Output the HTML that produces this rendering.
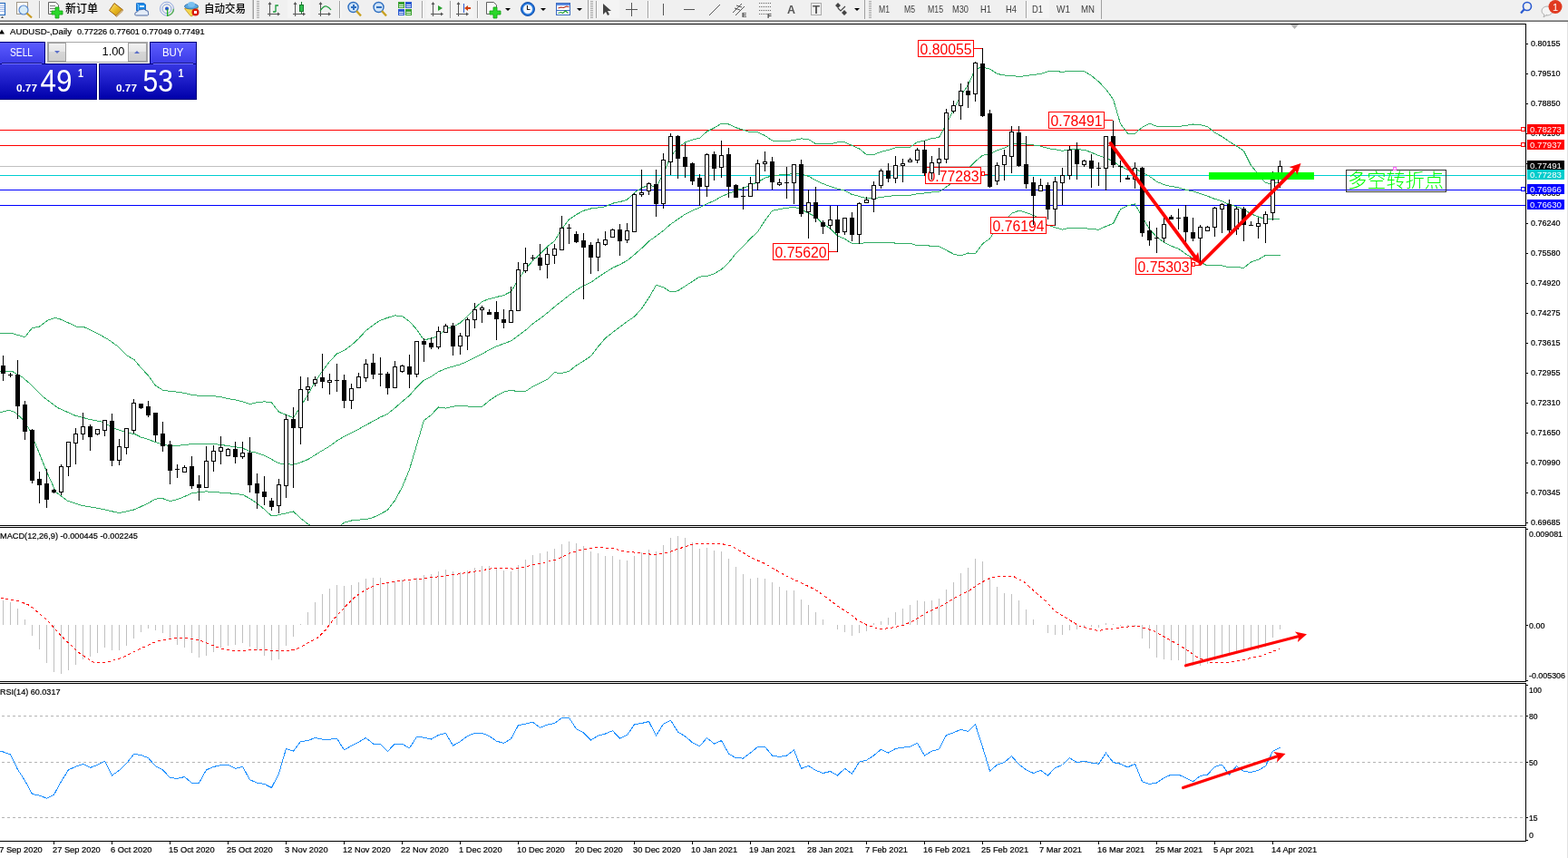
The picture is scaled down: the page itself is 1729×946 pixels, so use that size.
<!DOCTYPE html>
<html><head><meta charset="utf-8"><title>AUDUSD Daily</title>
<style>html,body{margin:0;padding:0;background:#fff;overflow:hidden}body{width:1729px;height:946px;position:relative}svg text{white-space:pre}</style>
</head><body>
<svg width="1729" height="946" viewBox="0 0 1729 946" style="position:absolute;left:0;top:0">
<defs><linearGradient id="gSellTop" x1="0" y1="0" x2="0" y2="1"><stop offset="0" stop-color="#5c5cff"/><stop offset="1" stop-color="#3a3ae6"/></linearGradient><linearGradient id="gSellBot" x1="0" y1="0" x2="0" y2="1"><stop offset="0" stop-color="#3636e2"/><stop offset="1" stop-color="#0000aa"/></linearGradient><linearGradient id="gBtn" x1="0" y1="0" x2="0" y2="1"><stop offset="0" stop-color="#f2f2f2"/><stop offset="0.45" stop-color="#e6e6e6"/><stop offset="0.5" stop-color="#d6d6d6"/><stop offset="1" stop-color="#cfcfcf"/></linearGradient><clipPath id="cMain"><rect x="0" y="27" width="1682" height="552"/></clipPath><clipPath id="cMacd"><rect x="0" y="582" width="1682" height="169"/></clipPath><clipPath id="cRsi"><rect x="0" y="754" width="1682" height="173"/></clipPath></defs>
<rect x="0" y="0" width="1729" height="946" fill="#ffffff" />
<g shape-rendering="crispEdges">
<rect x="0" y="26" width="1683" height="1" fill="#000" />
<rect x="1682" y="26" width="1" height="554" fill="#000" />
<rect x="0" y="579" width="1683" height="1" fill="#000" />
<rect x="0" y="581" width="1683" height="1" fill="#000" />
<rect x="1682" y="581" width="1" height="171" fill="#000" />
<rect x="0" y="751" width="1683" height="1" fill="#000" />
<rect x="0" y="753" width="1683" height="1" fill="#000" />
<rect x="1682" y="753" width="1" height="175" fill="#000" />
<rect x="0" y="927" width="1683" height="1" fill="#000" />
<rect x="1683" y="926" width="2" height="1" fill="#000" />
<rect x="1728" y="24" width="1" height="922" fill="#e2e2e2" />
<rect x="0" y="143" width="1682" height="1" fill="#ff0000" />
<rect x="0" y="160" width="1682" height="1" fill="#ff0000" />
<rect x="0" y="183" width="1682" height="1" fill="#c0c0c0" />
<rect x="0" y="193" width="1682" height="1" fill="#00ced1" />
<rect x="0" y="209" width="1682" height="1" fill="#0000ff" />
<rect x="0" y="226" width="1682" height="1" fill="#0000ff" />
<rect x="1677.5" y="140.5" width="4" height="4" fill="#fff" stroke="#ff0000" stroke-width="1"/>
<rect x="1677.5" y="157.5" width="4" height="4" fill="#fff" stroke="#ff0000" stroke-width="1"/>
<rect x="1677.5" y="206.5" width="4" height="4" fill="#fff" stroke="#0000ff" stroke-width="1"/>
</g>
<g clip-path="url(#cMain)">
<g shape-rendering="crispEdges" stroke-linejoin="round">
<polyline points="0.5,367.3 13.2,367.6 27.5,371.6 35.4,361.7 43.3,360.1 52.8,353.0 60.8,350.3 67.1,352.2 84.6,360.1 92.5,360.5 108.4,368.1 119.5,374.4 130.5,382.3 140.1,391.9 148.0,396.6 155.5,405.6 163.5,414.0 171.5,425.2 179.5,430.1 187.5,431.4 195.5,432.1 203.5,433.4 211.5,435.5 219.5,436.2 227.5,436.4 235.5,436.7 243.5,437.7 251.5,439.7 259.5,440.8 267.5,442.8 275.5,445.5 283.5,443.7 291.5,442.8 299.5,443.9 307.5,454.2 315.5,457.4 323.5,460.6 331.5,448.2 339.5,435.3 347.5,420.9 355.5,409.1 363.5,398.6 371.5,390.0 379.5,386.4 387.5,380.6 395.5,373.3 403.5,364.5 411.5,358.4 419.5,353.1 427.5,350.3 435.5,347.9 443.5,348.6 451.5,354.4 459.5,363.3 467.5,375.0 475.5,373.0 483.5,370.8 491.5,362.7 499.5,360.2 507.5,356.0 515.5,348.7 523.5,340.0 531.5,332.4 539.5,329.6 547.5,327.5 555.5,325.6 563.5,321.5 571.5,308.6 579.5,296.6 587.5,287.6 595.5,280.2 603.5,271.9 611.5,265.7 619.5,252.5 627.5,241.9 635.5,236.6 643.5,232.3 651.5,230.0 659.5,229.0 667.5,227.8 675.5,224.2 683.5,222.6 691.5,220.2 699.5,212.3 707.5,207.3 715.5,203.9 723.5,206.2 731.5,191.8 739.5,172.4 747.5,162.7 755.5,157.0 763.5,154.1 771.5,152.3 779.5,145.0 787.5,141.0 795.5,136.2 803.5,137.0 811.5,140.7 819.5,143.3 827.5,145.7 835.5,145.8 843.5,149.5 851.5,155.0 859.5,155.3 867.5,155.6 875.5,154.6 883.5,152.9 891.5,153.6 899.5,158.6 907.5,158.3 915.5,159.0 923.5,156.9 931.5,156.8 939.5,160.5 947.5,164.0 955.5,170.6 963.5,170.5 971.5,167.3 979.5,165.5 987.5,162.7 995.5,162.7 1003.5,162.3 1011.5,156.5 1019.5,155.3 1027.5,152.6 1035.5,151.6 1043.5,136.2 1051.5,121.3 1059.5,105.4 1067.5,93.9 1075.5,76.0 1083.5,74.0 1091.5,76.1 1099.5,81.4 1107.5,83.0 1115.5,83.5 1123.5,84.4 1131.5,83.7 1139.5,82.3 1147.5,81.6 1155.5,78.8 1163.5,78.7 1171.5,79.2 1179.5,78.6 1187.5,78.6 1195.5,78.7 1203.5,83.4 1211.5,90.0 1219.5,98.5 1227.5,109.4 1235.5,136.5 1243.5,147.3 1251.5,147.2 1259.5,140.4 1267.5,136.1 1275.5,139.3 1283.5,139.9 1291.5,139.7 1299.5,139.3 1307.5,138.6 1315.5,137.0 1323.5,137.7 1331.5,139.5 1339.5,146.2 1347.5,150.6 1355.5,156.2 1363.5,160.9 1371.5,166.4 1379.5,182.5 1387.5,191.8 1395.5,201.9 1403.5,202.2 1411.5,201.5" fill="none" stroke="#31ad65" stroke-width="1" />
<polyline points="0.5,409.6 6.8,409.0 13.2,409.3 24.3,415.6 35.4,425.2 48.1,437.9 63.9,449.7 83.0,458.2 98.8,462.4 111.5,464.8 127.4,472.7 138.5,476.7 149.5,479.0 155.5,482.1 163.5,484.4 171.5,487.6 179.5,489.9 187.5,492.0 195.5,491.4 203.5,490.4 211.5,489.7 219.5,489.4 227.5,489.1 235.5,489.6 243.5,490.4 251.5,491.6 259.5,492.8 267.5,494.1 275.5,497.6 283.5,499.4 291.5,502.1 299.5,506.4 307.5,510.9 315.5,511.6 323.5,512.3 331.5,509.8 339.5,506.6 347.5,501.6 355.5,496.7 363.5,491.9 371.5,486.1 379.5,481.3 387.5,477.3 395.5,473.2 403.5,468.6 411.5,464.4 419.5,459.9 427.5,456.3 435.5,449.8 443.5,442.8 451.5,436.1 459.5,426.9 467.5,419.2 475.5,415.2 483.5,409.9 491.5,406.4 499.5,404.1 507.5,401.8 515.5,398.4 523.5,394.4 531.5,390.4 539.5,385.7 547.5,381.9 555.5,378.9 563.5,375.9 571.5,370.1 579.5,364.1 587.5,356.9 595.5,351.3 603.5,345.1 611.5,338.2 619.5,332.0 627.5,325.6 635.5,319.8 643.5,315.1 651.5,311.4 659.5,305.6 667.5,300.4 675.5,295.4 683.5,291.6 691.5,287.4 699.5,280.8 707.5,273.8 715.5,266.1 723.5,260.2 731.5,254.2 739.5,247.2 747.5,241.7 755.5,236.2 763.5,232.2 771.5,228.8 779.5,224.7 787.5,221.4 795.5,216.7 803.5,213.3 811.5,210.0 819.5,207.4 827.5,204.3 835.5,200.7 843.5,196.3 851.5,193.7 859.5,193.0 867.5,192.4 875.5,191.4 883.5,191.9 891.5,194.3 899.5,198.8 907.5,202.6 915.5,205.5 923.5,208.3 931.5,210.1 939.5,214.5 947.5,216.4 955.5,218.9 963.5,218.8 971.5,217.4 979.5,216.4 987.5,215.4 995.5,215.4 1003.5,215.3 1011.5,213.6 1019.5,213.0 1027.5,211.9 1035.5,211.6 1043.5,206.1 1051.5,200.7 1059.5,193.7 1067.5,186.4 1075.5,177.8 1083.5,171.3 1091.5,169.6 1099.5,165.8 1107.5,163.2 1115.5,159.4 1123.5,158.3 1131.5,159.0 1139.5,159.9 1147.5,161.1 1155.5,163.6 1163.5,164.8 1171.5,166.2 1179.5,164.9 1187.5,164.9 1195.5,165.1 1203.5,168.1 1211.5,171.6 1219.5,174.1 1227.5,177.9 1235.5,183.6 1243.5,187.1 1251.5,186.1 1259.5,189.8 1267.5,194.4 1275.5,200.3 1283.5,203.6 1291.5,205.5 1299.5,206.8 1307.5,209.3 1315.5,210.9 1323.5,213.4 1331.5,216.2 1339.5,219.4 1347.5,221.7 1355.5,225.5 1363.5,227.8 1371.5,230.8 1379.5,235.8 1387.5,239.0 1395.5,241.7 1403.5,241.7 1411.5,241.6" fill="none" stroke="#31ad65" stroke-width="1" />
<polyline points="0.5,454.5 10.0,452.4 16.4,454.5 24.3,461.6 32.2,473.0 42.8,498.4 51.2,519.5 61.8,542.8 74.5,552.3 89.3,557.2 110.5,560.8 131.5,565.6 148.5,561.8 155.5,558.5 163.5,554.7 171.5,550.1 179.5,549.6 187.5,552.6 195.5,550.7 203.5,547.5 211.5,543.9 219.5,542.7 227.5,541.9 235.5,542.6 243.5,543.1 251.5,543.6 259.5,544.7 267.5,545.3 275.5,549.7 283.5,555.1 291.5,561.5 299.5,569.0 307.5,567.7 315.5,565.8 323.5,564.0 331.5,571.4 339.5,577.8 347.5,582.2 355.5,584.3 363.5,585.2 371.5,582.2 379.5,576.2 387.5,574.0 395.5,573.1 403.5,572.7 411.5,570.5 419.5,566.7 427.5,562.3 435.5,551.7 443.5,537.0 451.5,517.7 459.5,490.6 467.5,463.4 475.5,457.4 483.5,449.0 491.5,450.1 499.5,448.1 507.5,447.5 515.5,448.0 523.5,448.9 531.5,448.5 539.5,441.8 547.5,436.2 555.5,432.1 563.5,430.3 571.5,431.7 579.5,431.5 587.5,426.2 595.5,422.4 603.5,418.4 611.5,410.8 619.5,411.5 627.5,409.3 635.5,403.0 643.5,398.0 651.5,392.7 659.5,382.3 667.5,372.9 675.5,366.6 683.5,360.6 691.5,354.5 699.5,349.2 707.5,340.3 715.5,328.4 723.5,314.3 731.5,316.6 739.5,322.0 747.5,320.7 755.5,315.5 763.5,310.3 771.5,305.2 779.5,304.4 787.5,301.8 795.5,297.1 803.5,289.6 811.5,279.3 819.5,271.6 827.5,263.0 835.5,255.6 843.5,243.2 851.5,232.3 859.5,230.7 867.5,229.3 875.5,228.2 883.5,231.0 891.5,235.0 899.5,239.0 907.5,246.8 915.5,252.0 923.5,259.8 931.5,263.4 939.5,268.5 947.5,268.9 955.5,267.2 963.5,267.2 971.5,267.5 979.5,267.3 987.5,268.1 995.5,268.1 1003.5,268.3 1011.5,270.6 1019.5,270.7 1027.5,271.2 1035.5,271.6 1043.5,275.9 1051.5,280.1 1059.5,282.0 1067.5,279.0 1075.5,279.6 1083.5,268.7 1091.5,263.1 1099.5,250.2 1107.5,243.3 1115.5,235.3 1123.5,232.2 1131.5,234.3 1139.5,237.6 1147.5,240.5 1155.5,248.3 1163.5,250.8 1171.5,253.1 1179.5,251.2 1187.5,251.3 1195.5,251.4 1203.5,252.8 1211.5,253.1 1219.5,249.6 1227.5,246.4 1235.5,230.7 1243.5,226.9 1251.5,225.0 1259.5,239.2 1267.5,252.8 1275.5,261.3 1283.5,267.2 1291.5,271.3 1299.5,274.2 1307.5,280.0 1315.5,284.8 1323.5,289.1 1331.5,293.0 1339.5,292.7 1347.5,292.8 1355.5,294.8 1363.5,294.6 1371.5,295.3 1379.5,289.0 1387.5,286.2 1395.5,281.4 1403.5,281.2 1411.5,281.7" fill="none" stroke="#31ad65" stroke-width="1" />
</g>
<rect x="1012.5" y="44.5" width="61" height="18" fill="#fff" stroke="#ff0000" stroke-width="1" shape-rendering="crispEdges"/>
<text x="1014.5" y="59.7" font-size="16" fill="#ff0000" text-anchor="start" font-weight="normal" font-family="'Liberation Sans', Arial, sans-serif" textLength="57" lengthAdjust="spacingAndGlyphs" >0.80055</text>
<rect x="1074" y="53" width="9" height="1" fill="#ff0000" shape-rendering="crispEdges"/>
<rect x="1156.5" y="123.5" width="61" height="18" fill="#fff" stroke="#ff0000" stroke-width="1" shape-rendering="crispEdges"/>
<text x="1158.5" y="138.7" font-size="16" fill="#ff0000" text-anchor="start" font-weight="normal" font-family="'Liberation Sans', Arial, sans-serif" textLength="57" lengthAdjust="spacingAndGlyphs" >0.78491</text>
<rect x="1218" y="132" width="9" height="1" fill="#ff0000" shape-rendering="crispEdges"/>
<rect x="1020.5" y="184.5" width="61" height="18" fill="#fff" stroke="#ff0000" stroke-width="1" shape-rendering="crispEdges"/>
<text x="1022.5" y="199.7" font-size="16" fill="#ff0000" text-anchor="start" font-weight="normal" font-family="'Liberation Sans', Arial, sans-serif" textLength="57" lengthAdjust="spacingAndGlyphs" >0.77283</text>
<rect x="1082.5" y="189.5" width="3" height="4" fill="#fff" stroke="#ff0000" stroke-width="1" shape-rendering="crispEdges"/>
<rect x="1086" y="192" width="5" height="1" fill="#ff0000" shape-rendering="crispEdges"/>
<rect x="852.5" y="268.5" width="61" height="18" fill="#fff" stroke="#ff0000" stroke-width="1" shape-rendering="crispEdges"/>
<text x="854.5" y="283.7" font-size="16" fill="#ff0000" text-anchor="start" font-weight="normal" font-family="'Liberation Sans', Arial, sans-serif" textLength="57" lengthAdjust="spacingAndGlyphs" >0.75620</text>
<rect x="914" y="277" width="9" height="1" fill="#ff0000" shape-rendering="crispEdges"/>
<rect x="1092.5" y="239.5" width="61" height="18" fill="#fff" stroke="#ff0000" stroke-width="1" shape-rendering="crispEdges"/>
<text x="1094.5" y="254.7" font-size="16" fill="#ff0000" text-anchor="start" font-weight="normal" font-family="'Liberation Sans', Arial, sans-serif" textLength="57" lengthAdjust="spacingAndGlyphs" >0.76194</text>
<rect x="1154" y="248" width="9" height="1" fill="#ff0000" shape-rendering="crispEdges"/>
<rect x="1252.5" y="284.5" width="61" height="18" fill="#fff" stroke="#ff0000" stroke-width="1" shape-rendering="crispEdges"/>
<text x="1254.5" y="299.7" font-size="16" fill="#ff0000" text-anchor="start" font-weight="normal" font-family="'Liberation Sans', Arial, sans-serif" textLength="57" lengthAdjust="spacingAndGlyphs" >0.75303</text>
<rect x="1314.5" y="289.5" width="3" height="4" fill="#fff" stroke="#ff0000" stroke-width="1" shape-rendering="crispEdges"/>
<rect x="1318" y="292" width="5" height="1" fill="#ff0000" shape-rendering="crispEdges"/>
<g shape-rendering="crispEdges">
<rect x="3" y="392" width="1" height="28" fill="#000" />
<rect x="1" y="403" width="5" height="9" fill="#000" />
<rect x="11" y="411" width="1" height="5" fill="#000" />
<rect x="9" y="413" width="5" height="1" fill="#000" />
<rect x="19" y="397" width="1" height="65" fill="#000" />
<rect x="17" y="413" width="5" height="35" fill="#000" />
<rect x="27" y="442" width="1" height="43" fill="#000" />
<rect x="25" y="446" width="5" height="30" fill="#000" />
<rect x="35" y="473" width="1" height="60" fill="#000" />
<rect x="33" y="474" width="5" height="56" fill="#000" />
<rect x="43" y="520" width="1" height="35" fill="#000" />
<rect x="41" y="528" width="5" height="7" fill="#000" />
<rect x="51" y="517" width="1" height="43" fill="#000" />
<rect x="49" y="533" width="5" height="18" fill="#000" />
<rect x="59" y="539" width="1" height="5" fill="#000" />
<rect x="57" y="540" width="5" height="3" fill="#000" />
<rect x="67" y="512" width="1" height="34" fill="#000" />
<rect x="65" y="514" width="5" height="29" fill="#000" />
<rect x="66" y="515" width="3" height="27" fill="#fff" />
<rect x="75" y="487" width="1" height="38" fill="#000" />
<rect x="73" y="487" width="5" height="28" fill="#000" />
<rect x="74" y="488" width="3" height="26" fill="#fff" />
<rect x="83" y="472" width="1" height="40" fill="#000" />
<rect x="81" y="478" width="5" height="11" fill="#000" />
<rect x="82" y="479" width="3" height="9" fill="#fff" />
<rect x="91" y="455" width="1" height="30" fill="#000" />
<rect x="89" y="470" width="5" height="9" fill="#000" />
<rect x="90" y="471" width="3" height="7" fill="#fff" />
<rect x="99" y="468" width="1" height="29" fill="#000" />
<rect x="97" y="470" width="5" height="12" fill="#000" />
<rect x="107" y="473" width="1" height="7" fill="#000" />
<rect x="105" y="473" width="5" height="6" fill="#000" />
<rect x="106" y="474" width="3" height="4" fill="#fff" />
<rect x="115" y="463" width="1" height="18" fill="#000" />
<rect x="113" y="463" width="5" height="12" fill="#000" />
<rect x="114" y="464" width="3" height="10" fill="#fff" />
<rect x="123" y="456" width="1" height="58" fill="#000" />
<rect x="121" y="464" width="5" height="44" fill="#000" />
<rect x="131" y="484" width="1" height="29" fill="#000" />
<rect x="129" y="492" width="5" height="16" fill="#000" />
<rect x="130" y="493" width="3" height="14" fill="#fff" />
<rect x="139" y="472" width="1" height="29" fill="#000" />
<rect x="137" y="472" width="5" height="22" fill="#000" />
<rect x="138" y="473" width="3" height="20" fill="#fff" />
<rect x="147" y="440" width="1" height="38" fill="#000" />
<rect x="145" y="444" width="5" height="31" fill="#000" />
<rect x="146" y="445" width="3" height="29" fill="#fff" />
<rect x="155" y="445" width="1" height="6" fill="#000" />
<rect x="153" y="445" width="5" height="5" fill="#000" />
<rect x="163" y="442" width="1" height="18" fill="#000" />
<rect x="161" y="448" width="5" height="10" fill="#000" />
<rect x="171" y="455" width="1" height="32" fill="#000" />
<rect x="169" y="455" width="5" height="25" fill="#000" />
<rect x="179" y="465" width="1" height="33" fill="#000" />
<rect x="177" y="478" width="5" height="14" fill="#000" />
<rect x="187" y="486" width="1" height="48" fill="#000" />
<rect x="185" y="490" width="5" height="29" fill="#000" />
<rect x="195" y="512" width="1" height="15" fill="#000" />
<rect x="193" y="517" width="5" height="1" fill="#000" />
<rect x="203" y="513" width="1" height="8" fill="#000" />
<rect x="201" y="515" width="5" height="6" fill="#000" />
<rect x="202" y="516" width="3" height="4" fill="#fff" />
<rect x="211" y="503" width="1" height="36" fill="#000" />
<rect x="209" y="514" width="5" height="22" fill="#000" />
<rect x="219" y="524" width="1" height="28" fill="#000" />
<rect x="217" y="534" width="5" height="4" fill="#000" />
<rect x="227" y="492" width="1" height="46" fill="#000" />
<rect x="225" y="508" width="5" height="30" fill="#000" />
<rect x="226" y="509" width="3" height="28" fill="#fff" />
<rect x="235" y="491" width="1" height="29" fill="#000" />
<rect x="233" y="497" width="5" height="12" fill="#000" />
<rect x="234" y="498" width="3" height="10" fill="#fff" />
<rect x="243" y="481" width="1" height="31" fill="#000" />
<rect x="241" y="493" width="5" height="5" fill="#000" />
<rect x="242" y="494" width="3" height="3" fill="#fff" />
<rect x="251" y="494" width="1" height="9" fill="#000" />
<rect x="249" y="495" width="5" height="8" fill="#000" />
<rect x="250" y="496" width="3" height="6" fill="#fff" />
<rect x="259" y="487" width="1" height="24" fill="#000" />
<rect x="257" y="495" width="5" height="9" fill="#000" />
<rect x="267" y="487" width="1" height="19" fill="#000" />
<rect x="265" y="499" width="5" height="5" fill="#000" />
<rect x="266" y="500" width="3" height="3" fill="#fff" />
<rect x="275" y="482" width="1" height="61" fill="#000" />
<rect x="273" y="499" width="5" height="36" fill="#000" />
<rect x="283" y="522" width="1" height="39" fill="#000" />
<rect x="281" y="533" width="5" height="11" fill="#000" />
<rect x="291" y="525" width="1" height="32" fill="#000" />
<rect x="289" y="542" width="5" height="6" fill="#000" />
<rect x="299" y="549" width="1" height="14" fill="#000" />
<rect x="297" y="552" width="5" height="7" fill="#000" />
<rect x="307" y="528" width="1" height="38" fill="#000" />
<rect x="305" y="534" width="5" height="24" fill="#000" />
<rect x="306" y="535" width="3" height="22" fill="#fff" />
<rect x="315" y="457" width="1" height="92" fill="#000" />
<rect x="313" y="462" width="5" height="74" fill="#000" />
<rect x="314" y="463" width="3" height="72" fill="#fff" />
<rect x="323" y="449" width="1" height="89" fill="#000" />
<rect x="321" y="462" width="5" height="10" fill="#000" />
<rect x="331" y="415" width="1" height="75" fill="#000" />
<rect x="329" y="429" width="5" height="43" fill="#000" />
<rect x="330" y="430" width="3" height="41" fill="#fff" />
<rect x="339" y="416" width="1" height="26" fill="#000" />
<rect x="337" y="426" width="5" height="4" fill="#000" />
<rect x="338" y="427" width="3" height="2" fill="#fff" />
<rect x="347" y="415" width="1" height="11" fill="#000" />
<rect x="345" y="418" width="5" height="5" fill="#000" />
<rect x="346" y="419" width="3" height="3" fill="#fff" />
<rect x="355" y="390" width="1" height="38" fill="#000" />
<rect x="353" y="416" width="5" height="5" fill="#000" />
<rect x="363" y="412" width="1" height="23" fill="#000" />
<rect x="361" y="419" width="5" height="3" fill="#000" />
<rect x="362" y="420" width="3" height="1" fill="#fff" />
<rect x="371" y="401" width="1" height="31" fill="#000" />
<rect x="369" y="419" width="5" height="1" fill="#000" />
<rect x="379" y="413" width="1" height="37" fill="#000" />
<rect x="377" y="419" width="5" height="23" fill="#000" />
<rect x="387" y="423" width="1" height="28" fill="#000" />
<rect x="385" y="428" width="5" height="14" fill="#000" />
<rect x="386" y="429" width="3" height="12" fill="#fff" />
<rect x="395" y="411" width="1" height="17" fill="#000" />
<rect x="393" y="415" width="5" height="13" fill="#000" />
<rect x="394" y="416" width="3" height="11" fill="#fff" />
<rect x="403" y="396" width="1" height="25" fill="#000" />
<rect x="401" y="401" width="5" height="16" fill="#000" />
<rect x="402" y="402" width="3" height="14" fill="#fff" />
<rect x="411" y="390" width="1" height="28" fill="#000" />
<rect x="409" y="400" width="5" height="13" fill="#000" />
<rect x="419" y="394" width="1" height="32" fill="#000" />
<rect x="417" y="412" width="5" height="1" fill="#000" />
<rect x="427" y="410" width="1" height="25" fill="#000" />
<rect x="425" y="412" width="5" height="16" fill="#000" />
<rect x="435" y="398" width="1" height="30" fill="#000" />
<rect x="433" y="404" width="5" height="24" fill="#000" />
<rect x="434" y="405" width="3" height="22" fill="#fff" />
<rect x="443" y="402" width="1" height="9" fill="#000" />
<rect x="441" y="403" width="5" height="7" fill="#000" />
<rect x="442" y="404" width="3" height="5" fill="#fff" />
<rect x="451" y="391" width="1" height="37" fill="#000" />
<rect x="449" y="404" width="5" height="9" fill="#000" />
<rect x="459" y="376" width="1" height="40" fill="#000" />
<rect x="457" y="376" width="5" height="37" fill="#000" />
<rect x="458" y="377" width="3" height="35" fill="#fff" />
<rect x="467" y="373" width="1" height="26" fill="#000" />
<rect x="465" y="376" width="5" height="4" fill="#000" />
<rect x="475" y="372" width="1" height="13" fill="#000" />
<rect x="473" y="378" width="5" height="5" fill="#000" />
<rect x="483" y="360" width="1" height="25" fill="#000" />
<rect x="481" y="365" width="5" height="18" fill="#000" />
<rect x="482" y="366" width="3" height="16" fill="#fff" />
<rect x="491" y="357" width="1" height="10" fill="#000" />
<rect x="489" y="359" width="5" height="8" fill="#000" />
<rect x="490" y="360" width="3" height="6" fill="#fff" />
<rect x="499" y="356" width="1" height="36" fill="#000" />
<rect x="497" y="359" width="5" height="23" fill="#000" />
<rect x="507" y="367" width="1" height="24" fill="#000" />
<rect x="505" y="370" width="5" height="12" fill="#000" />
<rect x="506" y="371" width="3" height="10" fill="#fff" />
<rect x="515" y="350" width="1" height="36" fill="#000" />
<rect x="513" y="352" width="5" height="19" fill="#000" />
<rect x="514" y="353" width="3" height="17" fill="#fff" />
<rect x="523" y="334" width="1" height="28" fill="#000" />
<rect x="521" y="341" width="5" height="12" fill="#000" />
<rect x="522" y="342" width="3" height="10" fill="#fff" />
<rect x="531" y="337" width="1" height="19" fill="#000" />
<rect x="529" y="339" width="5" height="3" fill="#000" />
<rect x="530" y="340" width="3" height="1" fill="#fff" />
<rect x="539" y="341" width="1" height="6" fill="#000" />
<rect x="537" y="344" width="5" height="3" fill="#000" />
<rect x="547" y="332" width="1" height="43" fill="#000" />
<rect x="545" y="344" width="5" height="8" fill="#000" />
<rect x="555" y="341" width="1" height="21" fill="#000" />
<rect x="553" y="352" width="5" height="4" fill="#000" />
<rect x="563" y="316" width="1" height="40" fill="#000" />
<rect x="561" y="342" width="5" height="14" fill="#000" />
<rect x="562" y="343" width="3" height="12" fill="#fff" />
<rect x="571" y="289" width="1" height="54" fill="#000" />
<rect x="569" y="297" width="5" height="46" fill="#000" />
<rect x="570" y="298" width="3" height="44" fill="#fff" />
<rect x="579" y="273" width="1" height="28" fill="#000" />
<rect x="577" y="290" width="5" height="9" fill="#000" />
<rect x="578" y="291" width="3" height="7" fill="#fff" />
<rect x="587" y="281" width="1" height="6" fill="#000" />
<rect x="585" y="284" width="5" height="1" fill="#000" />
<rect x="595" y="269" width="1" height="29" fill="#000" />
<rect x="593" y="284" width="5" height="9" fill="#000" />
<rect x="603" y="273" width="1" height="34" fill="#000" />
<rect x="601" y="280" width="5" height="12" fill="#000" />
<rect x="602" y="281" width="3" height="10" fill="#fff" />
<rect x="611" y="269" width="1" height="22" fill="#000" />
<rect x="609" y="274" width="5" height="8" fill="#000" />
<rect x="610" y="275" width="3" height="6" fill="#fff" />
<rect x="619" y="238" width="1" height="38" fill="#000" />
<rect x="617" y="251" width="5" height="25" fill="#000" />
<rect x="618" y="252" width="3" height="23" fill="#fff" />
<rect x="627" y="247" width="1" height="22" fill="#000" />
<rect x="625" y="251" width="5" height="1" fill="#000" />
<rect x="635" y="255" width="1" height="13" fill="#000" />
<rect x="633" y="258" width="5" height="9" fill="#000" />
<rect x="643" y="257" width="1" height="73" fill="#000" />
<rect x="641" y="265" width="5" height="8" fill="#000" />
<rect x="651" y="267" width="1" height="35" fill="#000" />
<rect x="649" y="270" width="5" height="14" fill="#000" />
<rect x="659" y="263" width="1" height="36" fill="#000" />
<rect x="657" y="267" width="5" height="17" fill="#000" />
<rect x="658" y="268" width="3" height="15" fill="#fff" />
<rect x="667" y="255" width="1" height="16" fill="#000" />
<rect x="665" y="264" width="5" height="6" fill="#000" />
<rect x="666" y="265" width="3" height="4" fill="#fff" />
<rect x="675" y="252" width="1" height="10" fill="#000" />
<rect x="673" y="253" width="5" height="9" fill="#000" />
<rect x="674" y="254" width="3" height="7" fill="#fff" />
<rect x="683" y="247" width="1" height="35" fill="#000" />
<rect x="681" y="253" width="5" height="13" fill="#000" />
<rect x="691" y="246" width="1" height="22" fill="#000" />
<rect x="689" y="254" width="5" height="11" fill="#000" />
<rect x="690" y="255" width="3" height="9" fill="#fff" />
<rect x="699" y="213" width="1" height="43" fill="#000" />
<rect x="697" y="214" width="5" height="42" fill="#000" />
<rect x="698" y="215" width="3" height="40" fill="#fff" />
<rect x="707" y="187" width="1" height="30" fill="#000" />
<rect x="705" y="212" width="5" height="3" fill="#000" />
<rect x="706" y="213" width="3" height="1" fill="#fff" />
<rect x="715" y="201" width="1" height="14" fill="#000" />
<rect x="713" y="202" width="5" height="9" fill="#000" />
<rect x="714" y="203" width="3" height="7" fill="#fff" />
<rect x="723" y="187" width="1" height="52" fill="#000" />
<rect x="721" y="203" width="5" height="22" fill="#000" />
<rect x="731" y="169" width="1" height="61" fill="#000" />
<rect x="729" y="176" width="5" height="49" fill="#000" />
<rect x="730" y="177" width="3" height="47" fill="#fff" />
<rect x="739" y="147" width="1" height="46" fill="#000" />
<rect x="737" y="150" width="5" height="29" fill="#000" />
<rect x="738" y="151" width="3" height="27" fill="#fff" />
<rect x="747" y="149" width="1" height="48" fill="#000" />
<rect x="745" y="150" width="5" height="25" fill="#000" />
<rect x="755" y="158" width="1" height="38" fill="#000" />
<rect x="753" y="173" width="5" height="11" fill="#000" />
<rect x="763" y="179" width="1" height="25" fill="#000" />
<rect x="761" y="180" width="5" height="20" fill="#000" />
<rect x="771" y="192" width="1" height="35" fill="#000" />
<rect x="769" y="196" width="5" height="10" fill="#000" />
<rect x="779" y="169" width="1" height="48" fill="#000" />
<rect x="777" y="170" width="5" height="36" fill="#000" />
<rect x="778" y="171" width="3" height="34" fill="#fff" />
<rect x="787" y="167" width="1" height="32" fill="#000" />
<rect x="785" y="170" width="5" height="16" fill="#000" />
<rect x="795" y="155" width="1" height="41" fill="#000" />
<rect x="793" y="171" width="5" height="14" fill="#000" />
<rect x="794" y="172" width="3" height="12" fill="#fff" />
<rect x="803" y="163" width="1" height="55" fill="#000" />
<rect x="801" y="170" width="5" height="36" fill="#000" />
<rect x="811" y="203" width="1" height="15" fill="#000" />
<rect x="809" y="204" width="5" height="14" fill="#000" />
<rect x="819" y="206" width="1" height="25" fill="#000" />
<rect x="817" y="216" width="5" height="1" fill="#000" />
<rect x="827" y="195" width="1" height="22" fill="#000" />
<rect x="825" y="202" width="5" height="15" fill="#000" />
<rect x="826" y="203" width="3" height="13" fill="#fff" />
<rect x="835" y="176" width="1" height="34" fill="#000" />
<rect x="833" y="180" width="5" height="22" fill="#000" />
<rect x="834" y="181" width="3" height="20" fill="#fff" />
<rect x="843" y="167" width="1" height="22" fill="#000" />
<rect x="841" y="178" width="5" height="3" fill="#000" />
<rect x="842" y="179" width="3" height="1" fill="#fff" />
<rect x="851" y="173" width="1" height="36" fill="#000" />
<rect x="849" y="178" width="5" height="23" fill="#000" />
<rect x="859" y="197" width="1" height="8" fill="#000" />
<rect x="857" y="201" width="5" height="3" fill="#000" />
<rect x="858" y="202" width="3" height="1" fill="#fff" />
<rect x="867" y="184" width="1" height="35" fill="#000" />
<rect x="865" y="201" width="5" height="1" fill="#000" />
<rect x="875" y="181" width="1" height="44" fill="#000" />
<rect x="873" y="181" width="5" height="21" fill="#000" />
<rect x="874" y="182" width="3" height="19" fill="#fff" />
<rect x="883" y="176" width="1" height="63" fill="#000" />
<rect x="881" y="181" width="5" height="55" fill="#000" />
<rect x="891" y="209" width="1" height="54" fill="#000" />
<rect x="889" y="223" width="5" height="11" fill="#000" />
<rect x="890" y="224" width="3" height="9" fill="#fff" />
<rect x="899" y="206" width="1" height="39" fill="#000" />
<rect x="897" y="223" width="5" height="18" fill="#000" />
<rect x="907" y="243" width="1" height="15" fill="#000" />
<rect x="905" y="245" width="5" height="5" fill="#000" />
<rect x="915" y="227" width="1" height="26" fill="#000" />
<rect x="913" y="242" width="5" height="7" fill="#000" />
<rect x="914" y="243" width="3" height="5" fill="#fff" />
<rect x="923" y="227" width="1" height="51" fill="#000" />
<rect x="921" y="242" width="5" height="15" fill="#000" />
<rect x="931" y="240" width="1" height="19" fill="#000" />
<rect x="929" y="240" width="5" height="16" fill="#000" />
<rect x="930" y="241" width="3" height="14" fill="#fff" />
<rect x="939" y="234" width="1" height="32" fill="#000" />
<rect x="937" y="240" width="5" height="19" fill="#000" />
<rect x="947" y="223" width="1" height="46" fill="#000" />
<rect x="945" y="224" width="5" height="35" fill="#000" />
<rect x="946" y="225" width="3" height="33" fill="#fff" />
<rect x="955" y="217" width="1" height="7" fill="#000" />
<rect x="953" y="220" width="5" height="4" fill="#000" />
<rect x="954" y="221" width="3" height="2" fill="#fff" />
<rect x="963" y="200" width="1" height="34" fill="#000" />
<rect x="961" y="204" width="5" height="16" fill="#000" />
<rect x="962" y="205" width="3" height="14" fill="#fff" />
<rect x="971" y="186" width="1" height="22" fill="#000" />
<rect x="969" y="188" width="5" height="17" fill="#000" />
<rect x="970" y="189" width="3" height="15" fill="#fff" />
<rect x="979" y="180" width="1" height="21" fill="#000" />
<rect x="977" y="188" width="5" height="9" fill="#000" />
<rect x="987" y="172" width="1" height="30" fill="#000" />
<rect x="985" y="182" width="5" height="15" fill="#000" />
<rect x="986" y="183" width="3" height="13" fill="#fff" />
<rect x="995" y="175" width="1" height="26" fill="#000" />
<rect x="993" y="180" width="5" height="3" fill="#000" />
<rect x="994" y="181" width="3" height="1" fill="#fff" />
<rect x="1003" y="174" width="1" height="5" fill="#000" />
<rect x="1001" y="176" width="5" height="3" fill="#000" />
<rect x="1002" y="177" width="3" height="1" fill="#fff" />
<rect x="1011" y="163" width="1" height="17" fill="#000" />
<rect x="1009" y="165" width="5" height="12" fill="#000" />
<rect x="1010" y="166" width="3" height="10" fill="#fff" />
<rect x="1019" y="155" width="1" height="39" fill="#000" />
<rect x="1017" y="165" width="5" height="26" fill="#000" />
<rect x="1027" y="172" width="1" height="26" fill="#000" />
<rect x="1025" y="179" width="5" height="12" fill="#000" />
<rect x="1026" y="180" width="3" height="10" fill="#fff" />
<rect x="1035" y="163" width="1" height="30" fill="#000" />
<rect x="1033" y="175" width="5" height="5" fill="#000" />
<rect x="1034" y="176" width="3" height="3" fill="#fff" />
<rect x="1043" y="120" width="1" height="60" fill="#000" />
<rect x="1041" y="124" width="5" height="52" fill="#000" />
<rect x="1042" y="125" width="3" height="50" fill="#fff" />
<rect x="1051" y="111" width="1" height="14" fill="#000" />
<rect x="1049" y="116" width="5" height="7" fill="#000" />
<rect x="1050" y="117" width="3" height="5" fill="#fff" />
<rect x="1059" y="92" width="1" height="40" fill="#000" />
<rect x="1057" y="100" width="5" height="17" fill="#000" />
<rect x="1058" y="101" width="3" height="15" fill="#fff" />
<rect x="1067" y="90" width="1" height="29" fill="#000" />
<rect x="1065" y="100" width="5" height="5" fill="#000" />
<rect x="1075" y="68" width="1" height="44" fill="#000" />
<rect x="1073" y="69" width="5" height="35" fill="#000" />
<rect x="1074" y="70" width="3" height="33" fill="#fff" />
<rect x="1083" y="53" width="1" height="76" fill="#000" />
<rect x="1081" y="70" width="5" height="58" fill="#000" />
<rect x="1091" y="121" width="1" height="86" fill="#000" />
<rect x="1089" y="125" width="5" height="81" fill="#000" />
<rect x="1099" y="179" width="1" height="25" fill="#000" />
<rect x="1097" y="182" width="5" height="18" fill="#000" />
<rect x="1098" y="183" width="3" height="16" fill="#fff" />
<rect x="1107" y="165" width="1" height="34" fill="#000" />
<rect x="1105" y="171" width="5" height="11" fill="#000" />
<rect x="1106" y="172" width="3" height="9" fill="#fff" />
<rect x="1115" y="139" width="1" height="52" fill="#000" />
<rect x="1113" y="145" width="5" height="28" fill="#000" />
<rect x="1114" y="146" width="3" height="26" fill="#fff" />
<rect x="1123" y="139" width="1" height="45" fill="#000" />
<rect x="1121" y="146" width="5" height="37" fill="#000" />
<rect x="1131" y="150" width="1" height="58" fill="#000" />
<rect x="1129" y="181" width="5" height="22" fill="#000" />
<rect x="1139" y="195" width="1" height="53" fill="#000" />
<rect x="1137" y="201" width="5" height="15" fill="#000" />
<rect x="1147" y="197" width="1" height="14" fill="#000" />
<rect x="1145" y="204" width="5" height="7" fill="#000" />
<rect x="1146" y="205" width="3" height="5" fill="#fff" />
<rect x="1155" y="201" width="1" height="41" fill="#000" />
<rect x="1153" y="204" width="5" height="27" fill="#000" />
<rect x="1163" y="195" width="1" height="54" fill="#000" />
<rect x="1161" y="200" width="5" height="31" fill="#000" />
<rect x="1162" y="201" width="3" height="29" fill="#fff" />
<rect x="1171" y="185" width="1" height="41" fill="#000" />
<rect x="1169" y="193" width="5" height="9" fill="#000" />
<rect x="1170" y="194" width="3" height="7" fill="#fff" />
<rect x="1179" y="161" width="1" height="37" fill="#000" />
<rect x="1177" y="165" width="5" height="29" fill="#000" />
<rect x="1178" y="166" width="3" height="27" fill="#fff" />
<rect x="1187" y="157" width="1" height="41" fill="#000" />
<rect x="1185" y="165" width="5" height="16" fill="#000" />
<rect x="1195" y="176" width="1" height="8" fill="#000" />
<rect x="1193" y="177" width="5" height="5" fill="#000" />
<rect x="1194" y="178" width="3" height="3" fill="#fff" />
<rect x="1203" y="170" width="1" height="37" fill="#000" />
<rect x="1201" y="177" width="5" height="9" fill="#000" />
<rect x="1211" y="179" width="1" height="26" fill="#000" />
<rect x="1209" y="185" width="5" height="1" fill="#000" />
<rect x="1219" y="150" width="1" height="60" fill="#000" />
<rect x="1217" y="150" width="5" height="36" fill="#000" />
<rect x="1218" y="151" width="3" height="34" fill="#fff" />
<rect x="1227" y="133" width="1" height="52" fill="#000" />
<rect x="1225" y="150" width="5" height="32" fill="#000" />
<rect x="1235" y="177" width="1" height="24" fill="#000" />
<rect x="1233" y="183" width="5" height="1" fill="#000" />
<rect x="1243" y="193" width="1" height="5" fill="#000" />
<rect x="1241" y="196" width="5" height="2" fill="#000" />
<rect x="1251" y="179" width="1" height="29" fill="#000" />
<rect x="1249" y="185" width="5" height="13" fill="#000" />
<rect x="1250" y="186" width="3" height="11" fill="#fff" />
<rect x="1259" y="184" width="1" height="77" fill="#000" />
<rect x="1257" y="185" width="5" height="72" fill="#000" />
<rect x="1267" y="244" width="1" height="27" fill="#000" />
<rect x="1265" y="254" width="5" height="11" fill="#000" />
<rect x="1275" y="251" width="1" height="28" fill="#000" />
<rect x="1273" y="262" width="5" height="1" fill="#000" />
<rect x="1283" y="239" width="1" height="28" fill="#000" />
<rect x="1281" y="247" width="5" height="16" fill="#000" />
<rect x="1282" y="248" width="3" height="14" fill="#fff" />
<rect x="1291" y="237" width="1" height="5" fill="#000" />
<rect x="1289" y="239" width="5" height="3" fill="#000" />
<rect x="1299" y="230" width="1" height="23" fill="#000" />
<rect x="1297" y="240" width="5" height="1" fill="#000" />
<rect x="1307" y="226" width="1" height="41" fill="#000" />
<rect x="1305" y="239" width="5" height="17" fill="#000" />
<rect x="1315" y="240" width="1" height="26" fill="#000" />
<rect x="1313" y="256" width="5" height="7" fill="#000" />
<rect x="1323" y="248" width="1" height="45" fill="#000" />
<rect x="1321" y="250" width="5" height="13" fill="#000" />
<rect x="1322" y="251" width="3" height="11" fill="#fff" />
<rect x="1331" y="249" width="1" height="6" fill="#000" />
<rect x="1329" y="250" width="5" height="5" fill="#000" />
<rect x="1330" y="251" width="3" height="3" fill="#fff" />
<rect x="1339" y="228" width="1" height="33" fill="#000" />
<rect x="1337" y="229" width="5" height="22" fill="#000" />
<rect x="1338" y="230" width="3" height="20" fill="#fff" />
<rect x="1347" y="224" width="1" height="33" fill="#000" />
<rect x="1345" y="225" width="5" height="6" fill="#000" />
<rect x="1346" y="226" width="3" height="4" fill="#fff" />
<rect x="1355" y="220" width="1" height="38" fill="#000" />
<rect x="1353" y="225" width="5" height="29" fill="#000" />
<rect x="1363" y="228" width="1" height="31" fill="#000" />
<rect x="1361" y="230" width="5" height="23" fill="#000" />
<rect x="1362" y="231" width="3" height="21" fill="#fff" />
<rect x="1371" y="228" width="1" height="38" fill="#000" />
<rect x="1369" y="230" width="5" height="18" fill="#000" />
<rect x="1379" y="244" width="1" height="5" fill="#000" />
<rect x="1377" y="248" width="5" height="1" fill="#000" />
<rect x="1387" y="240" width="1" height="23" fill="#000" />
<rect x="1385" y="246" width="5" height="4" fill="#000" />
<rect x="1386" y="247" width="3" height="2" fill="#fff" />
<rect x="1395" y="233" width="1" height="35" fill="#000" />
<rect x="1393" y="236" width="5" height="11" fill="#000" />
<rect x="1394" y="237" width="3" height="9" fill="#fff" />
<rect x="1403" y="189" width="1" height="54" fill="#000" />
<rect x="1401" y="198" width="5" height="37" fill="#000" />
<rect x="1402" y="199" width="3" height="35" fill="#fff" />
<rect x="1411" y="177" width="1" height="30" fill="#000" />
<rect x="1409" y="183" width="5" height="19" fill="#000" />
<rect x="1410" y="184" width="3" height="17" fill="#fff" />
</g>
<rect x="1333" y="190" width="116" height="8" fill="#00ff00" shape-rendering="crispEdges"/>
<rect x="1484.5" y="187.5" width="110" height="24" fill="none" stroke="#333" stroke-width="1" shape-rendering="crispEdges"/>
<text x="1486" y="206" font-size="21" fill="#00ff00" text-anchor="start" font-weight="300" font-family="'Noto Sans CJK SC', sans-serif" textLength="106" lengthAdjust="spacingAndGlyphs" >多空转折点</text>
<rect x="1536.5" y="184.5" width="3" height="3" fill="none" stroke="#ff66ff" stroke-width="1" shape-rendering="crispEdges"/>
<line x1="1224.5" y1="158" x2="1317.5" y2="283.0" stroke="#ff0000" stroke-width="3.8" stroke-linecap="round"/>
<polygon points="1323.5,291.0 1311.5,285.0 1318.1,283.8 1321.1,277.8" fill="#ff0000"/>
<line x1="1323.5" y1="291" x2="1427.4" y2="187.1" stroke="#ff0000" stroke-width="3.8" stroke-linecap="round"/>
<polygon points="1434.5,180.0 1430.3,192.7 1428.1,186.4 1421.8,184.2" fill="#ff0000"/>
</g>
<g shape-rendering="crispEdges">
<rect x="1683" y="48" width="2" height="1" fill="#000" />
<rect x="1683" y="81" width="2" height="1" fill="#000" />
<rect x="1683" y="114" width="2" height="1" fill="#000" />
<rect x="1683" y="147" width="2" height="1" fill="#000" />
<rect x="1683" y="180" width="2" height="1" fill="#000" />
<rect x="1683" y="213" width="2" height="1" fill="#000" />
<rect x="1683" y="246" width="2" height="1" fill="#000" />
<rect x="1683" y="279" width="2" height="1" fill="#000" />
<rect x="1683" y="312" width="2" height="1" fill="#000" />
<rect x="1683" y="345" width="2" height="1" fill="#000" />
<rect x="1683" y="378" width="2" height="1" fill="#000" />
<rect x="1683" y="411" width="2" height="1" fill="#000" />
<rect x="1683" y="444" width="2" height="1" fill="#000" />
<rect x="1683" y="477" width="2" height="1" fill="#000" />
<rect x="1683" y="510" width="2" height="1" fill="#000" />
<rect x="1683" y="543" width="2" height="1" fill="#000" />
<rect x="1683" y="576" width="2" height="1" fill="#000" />
</g>
<text x="1688" y="51.3" font-size="9" fill="#000" text-anchor="start" font-weight="normal" font-family="'Liberation Sans', Arial, sans-serif" textLength="32.5" lengthAdjust="spacingAndGlyphs" stroke="#000" stroke-width="0.2">0.80155</text>
<text x="1688" y="84.3" font-size="9" fill="#000" text-anchor="start" font-weight="normal" font-family="'Liberation Sans', Arial, sans-serif" textLength="32.5" lengthAdjust="spacingAndGlyphs" stroke="#000" stroke-width="0.2">0.79510</text>
<text x="1688" y="117.3" font-size="9" fill="#000" text-anchor="start" font-weight="normal" font-family="'Liberation Sans', Arial, sans-serif" textLength="32.5" lengthAdjust="spacingAndGlyphs" stroke="#000" stroke-width="0.2">0.78850</text>
<text x="1688" y="150.3" font-size="9" fill="#000" text-anchor="start" font-weight="normal" font-family="'Liberation Sans', Arial, sans-serif" textLength="32.5" lengthAdjust="spacingAndGlyphs" stroke="#000" stroke-width="0.2">0.78190</text>
<text x="1688" y="183.3" font-size="9" fill="#000" text-anchor="start" font-weight="normal" font-family="'Liberation Sans', Arial, sans-serif" textLength="32.5" lengthAdjust="spacingAndGlyphs" stroke="#000" stroke-width="0.2">0.77530</text>
<text x="1688" y="216.3" font-size="9" fill="#000" text-anchor="start" font-weight="normal" font-family="'Liberation Sans', Arial, sans-serif" textLength="32.5" lengthAdjust="spacingAndGlyphs" stroke="#000" stroke-width="0.2">0.76885</text>
<text x="1688" y="249.3" font-size="9" fill="#000" text-anchor="start" font-weight="normal" font-family="'Liberation Sans', Arial, sans-serif" textLength="32.5" lengthAdjust="spacingAndGlyphs" stroke="#000" stroke-width="0.2">0.76240</text>
<text x="1688" y="282.3" font-size="9" fill="#000" text-anchor="start" font-weight="normal" font-family="'Liberation Sans', Arial, sans-serif" textLength="32.5" lengthAdjust="spacingAndGlyphs" stroke="#000" stroke-width="0.2">0.75580</text>
<text x="1688" y="315.3" font-size="9" fill="#000" text-anchor="start" font-weight="normal" font-family="'Liberation Sans', Arial, sans-serif" textLength="32.5" lengthAdjust="spacingAndGlyphs" stroke="#000" stroke-width="0.2">0.74920</text>
<text x="1688" y="348.3" font-size="9" fill="#000" text-anchor="start" font-weight="normal" font-family="'Liberation Sans', Arial, sans-serif" textLength="32.5" lengthAdjust="spacingAndGlyphs" stroke="#000" stroke-width="0.2">0.74275</text>
<text x="1688" y="381.3" font-size="9" fill="#000" text-anchor="start" font-weight="normal" font-family="'Liberation Sans', Arial, sans-serif" textLength="32.5" lengthAdjust="spacingAndGlyphs" stroke="#000" stroke-width="0.2">0.73615</text>
<text x="1688" y="414.3" font-size="9" fill="#000" text-anchor="start" font-weight="normal" font-family="'Liberation Sans', Arial, sans-serif" textLength="32.5" lengthAdjust="spacingAndGlyphs" stroke="#000" stroke-width="0.2">0.72955</text>
<text x="1688" y="447.3" font-size="9" fill="#000" text-anchor="start" font-weight="normal" font-family="'Liberation Sans', Arial, sans-serif" textLength="32.5" lengthAdjust="spacingAndGlyphs" stroke="#000" stroke-width="0.2">0.72310</text>
<text x="1688" y="480.3" font-size="9" fill="#000" text-anchor="start" font-weight="normal" font-family="'Liberation Sans', Arial, sans-serif" textLength="32.5" lengthAdjust="spacingAndGlyphs" stroke="#000" stroke-width="0.2">0.71650</text>
<text x="1688" y="513.3" font-size="9" fill="#000" text-anchor="start" font-weight="normal" font-family="'Liberation Sans', Arial, sans-serif" textLength="32.5" lengthAdjust="spacingAndGlyphs" stroke="#000" stroke-width="0.2">0.70990</text>
<text x="1688" y="546.3" font-size="9" fill="#000" text-anchor="start" font-weight="normal" font-family="'Liberation Sans', Arial, sans-serif" textLength="32.5" lengthAdjust="spacingAndGlyphs" stroke="#000" stroke-width="0.2">0.70345</text>
<text x="1688" y="579.3" font-size="9" fill="#000" text-anchor="start" font-weight="normal" font-family="'Liberation Sans', Arial, sans-serif" textLength="32.5" lengthAdjust="spacingAndGlyphs" stroke="#000" stroke-width="0.2">0.69685</text>
<rect x="1684" y="137" width="41" height="11" fill="#ff0000" shape-rendering="crispEdges"/>
<text x="1687" y="145.5" font-size="9.5" fill="#fff" text-anchor="start" font-weight="normal" font-family="'Liberation Sans', Arial, sans-serif" textLength="35" lengthAdjust="spacingAndGlyphs" >0.78273</text>
<rect x="1684" y="154" width="41" height="11" fill="#ff0000" shape-rendering="crispEdges"/>
<text x="1687" y="162.5" font-size="9.5" fill="#fff" text-anchor="start" font-weight="normal" font-family="'Liberation Sans', Arial, sans-serif" textLength="35" lengthAdjust="spacingAndGlyphs" >0.77937</text>
<rect x="1684" y="177" width="41" height="11" fill="#000000" shape-rendering="crispEdges"/>
<text x="1687" y="185.5" font-size="9.5" fill="#fff" text-anchor="start" font-weight="normal" font-family="'Liberation Sans', Arial, sans-serif" textLength="35" lengthAdjust="spacingAndGlyphs" >0.77491</text>
<rect x="1684" y="187" width="41" height="11" fill="#00cccc" shape-rendering="crispEdges"/>
<text x="1687" y="195.5" font-size="9.5" fill="#fff" text-anchor="start" font-weight="normal" font-family="'Liberation Sans', Arial, sans-serif" textLength="35" lengthAdjust="spacingAndGlyphs" >0.77283</text>
<rect x="1684" y="203" width="41" height="11" fill="#0000ff" shape-rendering="crispEdges"/>
<text x="1687" y="211.5" font-size="9.5" fill="#fff" text-anchor="start" font-weight="normal" font-family="'Liberation Sans', Arial, sans-serif" textLength="35" lengthAdjust="spacingAndGlyphs" >0.76966</text>
<rect x="1684" y="220" width="41" height="11" fill="#0000ff" shape-rendering="crispEdges"/>
<text x="1687" y="228.5" font-size="9.5" fill="#fff" text-anchor="start" font-weight="normal" font-family="'Liberation Sans', Arial, sans-serif" textLength="35" lengthAdjust="spacingAndGlyphs" >0.76630</text>
<g shape-rendering="crispEdges">
<rect x="3" y="662" width="1" height="27" fill="#c0c0c0" />
<rect x="11" y="664" width="1" height="25" fill="#c0c0c0" />
<rect x="19" y="671" width="1" height="18" fill="#c0c0c0" />
<rect x="27" y="683" width="1" height="6" fill="#c0c0c0" />
<rect x="35" y="689" width="1" height="12" fill="#c0c0c0" />
<rect x="43" y="689" width="1" height="27" fill="#c0c0c0" />
<rect x="51" y="689" width="1" height="42" fill="#c0c0c0" />
<rect x="59" y="689" width="1" height="52" fill="#c0c0c0" />
<rect x="67" y="689" width="1" height="54" fill="#c0c0c0" />
<rect x="75" y="689" width="1" height="50" fill="#c0c0c0" />
<rect x="83" y="689" width="1" height="44" fill="#c0c0c0" />
<rect x="91" y="689" width="1" height="38" fill="#c0c0c0" />
<rect x="99" y="689" width="1" height="35" fill="#c0c0c0" />
<rect x="107" y="689" width="1" height="31" fill="#c0c0c0" />
<rect x="115" y="689" width="1" height="25" fill="#c0c0c0" />
<rect x="123" y="689" width="1" height="28" fill="#c0c0c0" />
<rect x="131" y="689" width="1" height="28" fill="#c0c0c0" />
<rect x="139" y="689" width="1" height="23" fill="#c0c0c0" />
<rect x="147" y="689" width="1" height="15" fill="#c0c0c0" />
<rect x="155" y="689" width="1" height="8" fill="#c0c0c0" />
<rect x="163" y="689" width="1" height="4" fill="#c0c0c0" />
<rect x="171" y="689" width="1" height="6" fill="#c0c0c0" />
<rect x="179" y="689" width="1" height="9" fill="#c0c0c0" />
<rect x="187" y="689" width="1" height="16" fill="#c0c0c0" />
<rect x="195" y="689" width="1" height="22" fill="#c0c0c0" />
<rect x="203" y="689" width="1" height="25" fill="#c0c0c0" />
<rect x="211" y="689" width="1" height="31" fill="#c0c0c0" />
<rect x="219" y="689" width="1" height="36" fill="#c0c0c0" />
<rect x="227" y="689" width="1" height="34" fill="#c0c0c0" />
<rect x="235" y="689" width="1" height="30" fill="#c0c0c0" />
<rect x="243" y="689" width="1" height="25" fill="#c0c0c0" />
<rect x="251" y="689" width="1" height="23" fill="#c0c0c0" />
<rect x="259" y="689" width="1" height="22" fill="#c0c0c0" />
<rect x="267" y="689" width="1" height="20" fill="#c0c0c0" />
<rect x="275" y="689" width="1" height="24" fill="#c0c0c0" />
<rect x="283" y="689" width="1" height="28" fill="#c0c0c0" />
<rect x="291" y="689" width="1" height="34" fill="#c0c0c0" />
<rect x="299" y="689" width="1" height="39" fill="#c0c0c0" />
<rect x="307" y="689" width="1" height="38" fill="#c0c0c0" />
<rect x="315" y="689" width="1" height="23" fill="#c0c0c0" />
<rect x="323" y="689" width="1" height="13" fill="#c0c0c0" />
<rect x="331" y="688" width="1" height="1" fill="#c0c0c0" />
<rect x="339" y="675" width="1" height="14" fill="#c0c0c0" />
<rect x="347" y="664" width="1" height="25" fill="#c0c0c0" />
<rect x="355" y="655" width="1" height="34" fill="#c0c0c0" />
<rect x="363" y="649" width="1" height="40" fill="#c0c0c0" />
<rect x="371" y="645" width="1" height="44" fill="#c0c0c0" />
<rect x="379" y="646" width="1" height="43" fill="#c0c0c0" />
<rect x="387" y="645" width="1" height="44" fill="#c0c0c0" />
<rect x="395" y="642" width="1" height="47" fill="#c0c0c0" />
<rect x="403" y="638" width="1" height="51" fill="#c0c0c0" />
<rect x="411" y="637" width="1" height="52" fill="#c0c0c0" />
<rect x="419" y="637" width="1" height="52" fill="#c0c0c0" />
<rect x="427" y="642" width="1" height="47" fill="#c0c0c0" />
<rect x="435" y="641" width="1" height="48" fill="#c0c0c0" />
<rect x="443" y="639" width="1" height="50" fill="#c0c0c0" />
<rect x="451" y="641" width="1" height="48" fill="#c0c0c0" />
<rect x="459" y="637" width="1" height="52" fill="#c0c0c0" />
<rect x="467" y="634" width="1" height="55" fill="#c0c0c0" />
<rect x="475" y="633" width="1" height="56" fill="#c0c0c0" />
<rect x="483" y="630" width="1" height="59" fill="#c0c0c0" />
<rect x="491" y="628" width="1" height="61" fill="#c0c0c0" />
<rect x="499" y="630" width="1" height="59" fill="#c0c0c0" />
<rect x="507" y="631" width="1" height="58" fill="#c0c0c0" />
<rect x="515" y="629" width="1" height="60" fill="#c0c0c0" />
<rect x="523" y="626" width="1" height="63" fill="#c0c0c0" />
<rect x="531" y="624" width="1" height="65" fill="#c0c0c0" />
<rect x="539" y="624" width="1" height="65" fill="#c0c0c0" />
<rect x="547" y="627" width="1" height="62" fill="#c0c0c0" />
<rect x="555" y="629" width="1" height="60" fill="#c0c0c0" />
<rect x="563" y="630" width="1" height="59" fill="#c0c0c0" />
<rect x="571" y="623" width="1" height="66" fill="#c0c0c0" />
<rect x="579" y="617" width="1" height="72" fill="#c0c0c0" />
<rect x="587" y="612" width="1" height="77" fill="#c0c0c0" />
<rect x="595" y="610" width="1" height="79" fill="#c0c0c0" />
<rect x="603" y="608" width="1" height="81" fill="#c0c0c0" />
<rect x="611" y="605" width="1" height="84" fill="#c0c0c0" />
<rect x="619" y="600" width="1" height="89" fill="#c0c0c0" />
<rect x="627" y="597" width="1" height="92" fill="#c0c0c0" />
<rect x="635" y="599" width="1" height="90" fill="#c0c0c0" />
<rect x="643" y="602" width="1" height="87" fill="#c0c0c0" />
<rect x="651" y="608" width="1" height="81" fill="#c0c0c0" />
<rect x="659" y="610" width="1" height="79" fill="#c0c0c0" />
<rect x="667" y="613" width="1" height="76" fill="#c0c0c0" />
<rect x="675" y="613" width="1" height="76" fill="#c0c0c0" />
<rect x="683" y="617" width="1" height="72" fill="#c0c0c0" />
<rect x="691" y="618" width="1" height="71" fill="#c0c0c0" />
<rect x="699" y="613" width="1" height="76" fill="#c0c0c0" />
<rect x="707" y="609" width="1" height="80" fill="#c0c0c0" />
<rect x="715" y="606" width="1" height="83" fill="#c0c0c0" />
<rect x="723" y="608" width="1" height="81" fill="#c0c0c0" />
<rect x="731" y="601" width="1" height="88" fill="#c0c0c0" />
<rect x="739" y="593" width="1" height="96" fill="#c0c0c0" />
<rect x="747" y="591" width="1" height="98" fill="#c0c0c0" />
<rect x="755" y="593" width="1" height="96" fill="#c0c0c0" />
<rect x="763" y="598" width="1" height="91" fill="#c0c0c0" />
<rect x="771" y="605" width="1" height="84" fill="#c0c0c0" />
<rect x="779" y="604" width="1" height="85" fill="#c0c0c0" />
<rect x="787" y="607" width="1" height="82" fill="#c0c0c0" />
<rect x="795" y="608" width="1" height="81" fill="#c0c0c0" />
<rect x="803" y="616" width="1" height="73" fill="#c0c0c0" />
<rect x="811" y="625" width="1" height="64" fill="#c0c0c0" />
<rect x="819" y="633" width="1" height="56" fill="#c0c0c0" />
<rect x="827" y="638" width="1" height="51" fill="#c0c0c0" />
<rect x="835" y="637" width="1" height="52" fill="#c0c0c0" />
<rect x="843" y="638" width="1" height="51" fill="#c0c0c0" />
<rect x="851" y="642" width="1" height="47" fill="#c0c0c0" />
<rect x="859" y="647" width="1" height="42" fill="#c0c0c0" />
<rect x="867" y="651" width="1" height="38" fill="#c0c0c0" />
<rect x="875" y="651" width="1" height="38" fill="#c0c0c0" />
<rect x="883" y="661" width="1" height="28" fill="#c0c0c0" />
<rect x="891" y="667" width="1" height="22" fill="#c0c0c0" />
<rect x="899" y="675" width="1" height="14" fill="#c0c0c0" />
<rect x="907" y="683" width="1" height="6" fill="#c0c0c0" />
<rect x="923" y="689" width="1" height="5" fill="#c0c0c0" />
<rect x="931" y="689" width="1" height="8" fill="#c0c0c0" />
<rect x="939" y="689" width="1" height="12" fill="#c0c0c0" />
<rect x="947" y="689" width="1" height="9" fill="#c0c0c0" />
<rect x="955" y="689" width="1" height="7" fill="#c0c0c0" />
<rect x="963" y="687" width="1" height="2" fill="#c0c0c0" />
<rect x="971" y="685" width="1" height="4" fill="#c0c0c0" />
<rect x="979" y="681" width="1" height="8" fill="#c0c0c0" />
<rect x="987" y="675" width="1" height="14" fill="#c0c0c0" />
<rect x="995" y="671" width="1" height="18" fill="#c0c0c0" />
<rect x="1003" y="667" width="1" height="22" fill="#c0c0c0" />
<rect x="1011" y="662" width="1" height="27" fill="#c0c0c0" />
<rect x="1019" y="663" width="1" height="26" fill="#c0c0c0" />
<rect x="1027" y="662" width="1" height="27" fill="#c0c0c0" />
<rect x="1035" y="660" width="1" height="29" fill="#c0c0c0" />
<rect x="1043" y="650" width="1" height="39" fill="#c0c0c0" />
<rect x="1051" y="642" width="1" height="47" fill="#c0c0c0" />
<rect x="1059" y="632" width="1" height="57" fill="#c0c0c0" />
<rect x="1067" y="626" width="1" height="63" fill="#c0c0c0" />
<rect x="1075" y="616" width="1" height="73" fill="#c0c0c0" />
<rect x="1083" y="619" width="1" height="70" fill="#c0c0c0" />
<rect x="1091" y="637" width="1" height="52" fill="#c0c0c0" />
<rect x="1099" y="647" width="1" height="42" fill="#c0c0c0" />
<rect x="1107" y="654" width="1" height="35" fill="#c0c0c0" />
<rect x="1115" y="655" width="1" height="34" fill="#c0c0c0" />
<rect x="1123" y="662" width="1" height="27" fill="#c0c0c0" />
<rect x="1131" y="672" width="1" height="17" fill="#c0c0c0" />
<rect x="1139" y="683" width="1" height="6" fill="#c0c0c0" />
<rect x="1155" y="689" width="1" height="9" fill="#c0c0c0" />
<rect x="1163" y="689" width="1" height="11" fill="#c0c0c0" />
<rect x="1171" y="689" width="1" height="11" fill="#c0c0c0" />
<rect x="1179" y="689" width="1" height="6" fill="#c0c0c0" />
<rect x="1187" y="689" width="1" height="5" fill="#c0c0c0" />
<rect x="1195" y="689" width="1" height="2" fill="#c0c0c0" />
<rect x="1203" y="689" width="1" height="2" fill="#c0c0c0" />
<rect x="1211" y="689" width="1" height="3" fill="#c0c0c0" />
<rect x="1219" y="687" width="1" height="2" fill="#c0c0c0" />
<rect x="1227" y="688" width="1" height="1" fill="#c0c0c0" />
<rect x="1235" y="689" width="1" height="1" fill="#c0c0c0" />
<rect x="1243" y="689" width="1" height="2" fill="#c0c0c0" />
<rect x="1251" y="689" width="1" height="2" fill="#c0c0c0" />
<rect x="1259" y="689" width="1" height="15" fill="#c0c0c0" />
<rect x="1267" y="689" width="1" height="26" fill="#c0c0c0" />
<rect x="1275" y="689" width="1" height="36" fill="#c0c0c0" />
<rect x="1283" y="689" width="1" height="38" fill="#c0c0c0" />
<rect x="1291" y="689" width="1" height="39" fill="#c0c0c0" />
<rect x="1299" y="689" width="1" height="39" fill="#c0c0c0" />
<rect x="1307" y="689" width="1" height="43" fill="#c0c0c0" />
<rect x="1315" y="689" width="1" height="45" fill="#c0c0c0" />
<rect x="1323" y="689" width="1" height="45" fill="#c0c0c0" />
<rect x="1331" y="689" width="1" height="43" fill="#c0c0c0" />
<rect x="1339" y="689" width="1" height="39" fill="#c0c0c0" />
<rect x="1347" y="689" width="1" height="35" fill="#c0c0c0" />
<rect x="1355" y="689" width="1" height="32" fill="#c0c0c0" />
<rect x="1363" y="689" width="1" height="30" fill="#c0c0c0" />
<rect x="1371" y="689" width="1" height="28" fill="#c0c0c0" />
<rect x="1379" y="689" width="1" height="26" fill="#c0c0c0" />
<rect x="1387" y="689" width="1" height="27" fill="#c0c0c0" />
<rect x="1395" y="689" width="1" height="24" fill="#c0c0c0" />
<rect x="1403" y="689" width="1" height="14" fill="#c0c0c0" />
<rect x="1411" y="689" width="1" height="5" fill="#c0c0c0" />
</g>
<polyline points="0.5,659.6 19.5,662.2 32.9,667.6 51.9,683.7 67.1,700.9 86.1,719.0 103.3,730.4 114.7,731.0 133.7,725.6 152.8,716.1 171.8,707.5 190.8,703.7 204.2,703.7 219.4,705.6 238.4,713.2 245.0,715.5 254.5,717.0 273.5,717.0 292.5,716.7 302.1,717.4 321.1,717.0 328.8,714.8 338.3,709.4 349.7,703.7 359.2,694.2 368.7,681.8 380.2,669.5 391.6,658.0 403.0,650.4 414.4,644.7 429.6,641.9 444.9,640.0 460.1,638.6 471.5,637.1 486.5,635.6 505.5,632.9 524.6,629.9 543.6,626.6 558.9,626.6 566.5,627.2 581.7,624.2 600.7,620.0 616.0,616.2 627.4,610.1 642.6,605.7 657.8,603.4 676.9,604.7 686.4,607.6 703.5,609.5 709.0,610.5 722.3,611.4 737.6,609.1 747.1,605.3 756.6,602.5 764.2,600.0 775.6,599.4 794.7,599.4 806.1,601.9 817.5,608.2 828.9,615.2 842.2,620.9 855.6,628.5 870.8,637.1 886.0,643.8 899.3,650.4 912.7,659.9 924.1,668.5 931.5,673.3 939.1,678.0 944.8,683.2 956.2,689.4 965.8,692.3 973.4,693.6 984.8,691.9 996.2,689.4 1007.6,684.3 1022.9,674.8 1038.1,667.9 1053.3,659.0 1068.5,651.4 1080.0,643.4 1091.4,637.5 1102.8,635.6 1118.0,635.8 1129.5,641.9 1140.9,652.3 1154.2,663.7 1163.5,674.2 1173.0,679.9 1182.5,685.6 1190.1,690.0 1201.5,693.2 1211.1,695.5 1220.5,693.8 1235.8,691.9 1252.9,690.0 1262.4,692.6 1273.8,696.4 1287.1,704.0 1300.5,711.3 1311.9,718.9 1321.4,725.5 1334.7,730.3 1353.7,730.3 1365.1,728.8 1376.5,726.1 1391.8,723.0 1403.2,718.5 1411.2,715.1" fill="none" stroke="#ff0000" stroke-width="1" stroke-dasharray="3,3" shape-rendering="crispEdges"/>
<line x1="1307.5" y1="733.8" x2="1431.3" y2="701.8" stroke="#ff0000" stroke-width="3.2" stroke-linecap="round"/>
<polygon points="1441.0,699.3 1430.9,708.1 1432.3,701.6 1427.9,696.5" fill="#ff0000"/>
<text x="0" y="594.3" font-size="9.3" fill="#000" text-anchor="start" font-weight="normal" font-family="'Liberation Sans', Arial, sans-serif" textLength="152" lengthAdjust="spacingAndGlyphs" stroke="#000" stroke-width="0.2">MACD(12,26,9) -0.000445 -0.002245</text>
<text x="1686" y="591.8" font-size="9" fill="#000" text-anchor="start" font-weight="normal" font-family="'Liberation Sans', Arial, sans-serif" textLength="37" lengthAdjust="spacingAndGlyphs" stroke="#000" stroke-width="0.2">0.009081</text>
<text x="1686" y="692.8" font-size="9" fill="#000" text-anchor="start" font-weight="normal" font-family="'Liberation Sans', Arial, sans-serif" textLength="17.5" lengthAdjust="spacingAndGlyphs" stroke="#000" stroke-width="0.2">0.00</text>
<text x="1686" y="747.8" font-size="9" fill="#000" text-anchor="start" font-weight="normal" font-family="'Liberation Sans', Arial, sans-serif" textLength="40" lengthAdjust="spacingAndGlyphs" stroke="#000" stroke-width="0.2">-0.005306</text>
<g shape-rendering="crispEdges">
<rect x="1683" y="583" width="2" height="1" fill="#000" />
<rect x="1683" y="689" width="2" height="1" fill="#000" />
<rect x="1683" y="750" width="2" height="1" fill="#000" />
<rect x="1683" y="755" width="2" height="1" fill="#000" />
</g>
<rect x="0" y="789" width="1682" height="1" fill="#c0c0c0" shape-rendering="crispEdges" style="display:none"/>
<line x1="2" y1="789.5" x2="1682" y2="789.5" stroke="#b4b4b4" stroke-width="1" stroke-dasharray="3,3" shape-rendering="crispEdges"/>
<rect x="0" y="840" width="1682" height="1" fill="#c0c0c0" shape-rendering="crispEdges" style="display:none"/>
<line x1="2" y1="840.5" x2="1682" y2="840.5" stroke="#b4b4b4" stroke-width="1" stroke-dasharray="3,3" shape-rendering="crispEdges"/>
<rect x="0" y="901" width="1682" height="1" fill="#c0c0c0" shape-rendering="crispEdges" style="display:none"/>
<line x1="2" y1="901.5" x2="1682" y2="901.5" stroke="#b4b4b4" stroke-width="1" stroke-dasharray="3,3" shape-rendering="crispEdges"/>
<polyline points="0.0,828.3 3.5,829.0 11.5,832.0 19.5,848.4 27.5,860.7 35.5,875.5 43.5,877.1 51.5,880.2 59.5,876.1 67.5,861.7 75.5,848.8 83.5,845.3 91.5,842.3 99.5,846.4 107.5,843.3 115.5,839.2 123.5,855.0 131.5,849.4 139.5,841.8 147.5,831.6 155.5,832.4 163.5,835.7 171.5,844.7 179.5,848.8 187.5,857.6 195.5,858.3 203.5,856.6 211.5,863.2 219.5,863.2 227.5,848.8 235.5,845.5 243.5,843.6 251.5,843.3 259.5,847.4 267.5,845.3 275.5,859.7 283.5,863.2 291.5,864.4 299.5,868.5 307.5,852.9 315.5,825.4 323.5,828.3 331.5,817.6 339.5,816.6 347.5,813.5 355.5,815.2 363.5,815.2 371.5,814.2 379.5,826.9 387.5,822.2 395.5,818.1 403.5,813.5 411.5,820.1 419.5,820.3 427.5,828.3 435.5,820.1 443.5,820.3 451.5,824.8 459.5,812.5 467.5,813.1 475.5,815.0 483.5,810.5 491.5,808.4 499.5,822.2 507.5,817.6 515.5,811.5 523.5,808.4 531.5,808.4 539.5,811.5 547.5,817.2 555.5,819.3 563.5,814.6 571.5,799.6 579.5,798.2 587.5,796.1 595.5,802.3 603.5,799.2 611.5,797.5 619.5,791.4 627.5,791.4 635.5,803.7 643.5,807.8 651.5,816.0 659.5,811.1 667.5,809.0 675.5,805.7 683.5,814.0 691.5,810.5 699.5,798.8 707.5,797.5 715.5,795.5 723.5,811.1 731.5,798.2 739.5,794.1 747.5,807.0 755.5,811.9 763.5,818.7 771.5,822.8 779.5,813.5 787.5,820.1 795.5,816.6 803.5,831.0 811.5,835.7 819.5,836.1 827.5,830.0 835.5,823.4 843.5,823.4 851.5,833.0 859.5,834.5 867.5,833.0 875.5,826.9 883.5,847.4 891.5,844.3 899.5,849.4 907.5,852.5 915.5,850.5 923.5,855.0 931.5,847.4 939.5,853.0 947.5,840.2 955.5,838.2 963.5,833.0 971.5,826.3 979.5,830.0 987.5,825.4 995.5,824.2 1003.5,823.4 1011.5,819.3 1019.5,833.0 1027.5,828.3 1035.5,825.8 1043.5,810.5 1051.5,807.8 1059.5,804.3 1067.5,806.4 1075.5,798.8 1083.5,823.8 1091.5,850.1 1099.5,843.3 1107.5,840.6 1115.5,833.6 1123.5,842.7 1131.5,848.8 1139.5,852.5 1147.5,849.4 1155.5,855.0 1163.5,846.5 1171.5,843.5 1179.5,835.7 1187.5,840.6 1195.5,839.1 1203.5,841.2 1211.5,842.2 1219.5,830.3 1227.5,840.6 1235.5,842.2 1243.5,845.9 1251.5,842.2 1259.5,861.7 1267.5,864.4 1275.5,863.1 1283.5,857.6 1291.5,854.1 1299.5,854.1 1307.5,857.6 1315.5,861.7 1323.5,855.5 1331.5,854.1 1339.5,845.3 1347.5,843.2 1355.5,854.1 1363.5,844.7 1371.5,850.4 1379.5,851.4 1387.5,849.4 1395.5,844.7 1403.5,828.3 1411.5,824.2" fill="none" stroke="#1e90ff" stroke-width="1" shape-rendering="crispEdges"/>
<line x1="1304.5" y1="868.5" x2="1408.0" y2="834.1" stroke="#ff0000" stroke-width="3.2" stroke-linecap="round"/>
<polygon points="1417.5,831.0 1408.0,840.5 1409.0,833.8 1404.2,829.1" fill="#ff0000"/>
<text x="0" y="766" font-size="9.3" fill="#000" text-anchor="start" font-weight="normal" font-family="'Liberation Sans', Arial, sans-serif" textLength="66.5" lengthAdjust="spacingAndGlyphs" stroke="#000" stroke-width="0.2">RSI(14) 60.0317</text>
<text x="1686" y="763.5999999999999" font-size="9" fill="#000" text-anchor="start" font-weight="normal" font-family="'Liberation Sans', Arial, sans-serif" textLength="14" lengthAdjust="spacingAndGlyphs" stroke="#000" stroke-width="0.2">100</text>
<text x="1686" y="792.5999999999999" font-size="9" fill="#000" text-anchor="start" font-weight="normal" font-family="'Liberation Sans', Arial, sans-serif" textLength="9.5" lengthAdjust="spacingAndGlyphs" stroke="#000" stroke-width="0.2">80</text>
<text x="1686" y="843.8" font-size="9" fill="#000" text-anchor="start" font-weight="normal" font-family="'Liberation Sans', Arial, sans-serif" textLength="9.5" lengthAdjust="spacingAndGlyphs" stroke="#000" stroke-width="0.2">50</text>
<text x="1686" y="905.0" font-size="9" fill="#000" text-anchor="start" font-weight="normal" font-family="'Liberation Sans', Arial, sans-serif" textLength="9.5" lengthAdjust="spacingAndGlyphs" stroke="#000" stroke-width="0.2">15</text>
<text x="1686" y="924.0999999999999" font-size="9" fill="#000" text-anchor="start" font-weight="normal" font-family="'Liberation Sans', Arial, sans-serif" textLength="5" lengthAdjust="spacingAndGlyphs" stroke="#000" stroke-width="0.2">0</text>
<g shape-rendering="crispEdges">
<rect x="1683" y="789" width="2" height="1" fill="#000" />
<rect x="1683" y="840" width="2" height="1" fill="#000" />
<rect x="1683" y="901" width="2" height="1" fill="#000" />
</g>
<g shape-rendering="crispEdges">
<rect x="-5" y="928" width="1" height="3" fill="#000" />
<rect x="59" y="928" width="1" height="3" fill="#000" />
<rect x="123" y="928" width="1" height="3" fill="#000" />
<rect x="187" y="928" width="1" height="3" fill="#000" />
<rect x="251" y="928" width="1" height="3" fill="#000" />
<rect x="315" y="928" width="1" height="3" fill="#000" />
<rect x="379" y="928" width="1" height="3" fill="#000" />
<rect x="443" y="928" width="1" height="3" fill="#000" />
<rect x="507" y="928" width="1" height="3" fill="#000" />
<rect x="571" y="928" width="1" height="3" fill="#000" />
<rect x="635" y="928" width="1" height="3" fill="#000" />
<rect x="699" y="928" width="1" height="3" fill="#000" />
<rect x="763" y="928" width="1" height="3" fill="#000" />
<rect x="827" y="928" width="1" height="3" fill="#000" />
<rect x="891" y="928" width="1" height="3" fill="#000" />
<rect x="955" y="928" width="1" height="3" fill="#000" />
<rect x="1019" y="928" width="1" height="3" fill="#000" />
<rect x="1083" y="928" width="1" height="3" fill="#000" />
<rect x="1147" y="928" width="1" height="3" fill="#000" />
<rect x="1211" y="928" width="1" height="3" fill="#000" />
<rect x="1275" y="928" width="1" height="3" fill="#000" />
<rect x="1339" y="928" width="1" height="3" fill="#000" />
<rect x="1403" y="928" width="1" height="3" fill="#000" />
</g>
<text x="-6" y="940" font-size="9.3" fill="#000" text-anchor="start" font-weight="normal" font-family="'Liberation Sans', Arial, sans-serif" stroke="#000" stroke-width="0.2">17 Sep 2020</text>
<text x="58" y="940" font-size="9.3" fill="#000" text-anchor="start" font-weight="normal" font-family="'Liberation Sans', Arial, sans-serif" stroke="#000" stroke-width="0.2">27 Sep 2020</text>
<text x="122" y="940" font-size="9.3" fill="#000" text-anchor="start" font-weight="normal" font-family="'Liberation Sans', Arial, sans-serif" stroke="#000" stroke-width="0.2">6 Oct 2020</text>
<text x="186" y="940" font-size="9.3" fill="#000" text-anchor="start" font-weight="normal" font-family="'Liberation Sans', Arial, sans-serif" stroke="#000" stroke-width="0.2">15 Oct 2020</text>
<text x="250" y="940" font-size="9.3" fill="#000" text-anchor="start" font-weight="normal" font-family="'Liberation Sans', Arial, sans-serif" stroke="#000" stroke-width="0.2">25 Oct 2020</text>
<text x="314" y="940" font-size="9.3" fill="#000" text-anchor="start" font-weight="normal" font-family="'Liberation Sans', Arial, sans-serif" stroke="#000" stroke-width="0.2">3 Nov 2020</text>
<text x="378" y="940" font-size="9.3" fill="#000" text-anchor="start" font-weight="normal" font-family="'Liberation Sans', Arial, sans-serif" stroke="#000" stroke-width="0.2">12 Nov 2020</text>
<text x="442" y="940" font-size="9.3" fill="#000" text-anchor="start" font-weight="normal" font-family="'Liberation Sans', Arial, sans-serif" stroke="#000" stroke-width="0.2">22 Nov 2020</text>
<text x="506" y="940" font-size="9.3" fill="#000" text-anchor="start" font-weight="normal" font-family="'Liberation Sans', Arial, sans-serif" stroke="#000" stroke-width="0.2">1 Dec 2020</text>
<text x="570" y="940" font-size="9.3" fill="#000" text-anchor="start" font-weight="normal" font-family="'Liberation Sans', Arial, sans-serif" stroke="#000" stroke-width="0.2">10 Dec 2020</text>
<text x="634" y="940" font-size="9.3" fill="#000" text-anchor="start" font-weight="normal" font-family="'Liberation Sans', Arial, sans-serif" stroke="#000" stroke-width="0.2">20 Dec 2020</text>
<text x="698" y="940" font-size="9.3" fill="#000" text-anchor="start" font-weight="normal" font-family="'Liberation Sans', Arial, sans-serif" stroke="#000" stroke-width="0.2">30 Dec 2020</text>
<text x="762" y="940" font-size="9.3" fill="#000" text-anchor="start" font-weight="normal" font-family="'Liberation Sans', Arial, sans-serif" stroke="#000" stroke-width="0.2">10 Jan 2021</text>
<text x="826" y="940" font-size="9.3" fill="#000" text-anchor="start" font-weight="normal" font-family="'Liberation Sans', Arial, sans-serif" stroke="#000" stroke-width="0.2">19 Jan 2021</text>
<text x="890" y="940" font-size="9.3" fill="#000" text-anchor="start" font-weight="normal" font-family="'Liberation Sans', Arial, sans-serif" stroke="#000" stroke-width="0.2">28 Jan 2021</text>
<text x="954" y="940" font-size="9.3" fill="#000" text-anchor="start" font-weight="normal" font-family="'Liberation Sans', Arial, sans-serif" stroke="#000" stroke-width="0.2">7 Feb 2021</text>
<text x="1018" y="940" font-size="9.3" fill="#000" text-anchor="start" font-weight="normal" font-family="'Liberation Sans', Arial, sans-serif" stroke="#000" stroke-width="0.2">16 Feb 2021</text>
<text x="1082" y="940" font-size="9.3" fill="#000" text-anchor="start" font-weight="normal" font-family="'Liberation Sans', Arial, sans-serif" stroke="#000" stroke-width="0.2">25 Feb 2021</text>
<text x="1146" y="940" font-size="9.3" fill="#000" text-anchor="start" font-weight="normal" font-family="'Liberation Sans', Arial, sans-serif" stroke="#000" stroke-width="0.2">7 Mar 2021</text>
<text x="1210" y="940" font-size="9.3" fill="#000" text-anchor="start" font-weight="normal" font-family="'Liberation Sans', Arial, sans-serif" stroke="#000" stroke-width="0.2">16 Mar 2021</text>
<text x="1274" y="940" font-size="9.3" fill="#000" text-anchor="start" font-weight="normal" font-family="'Liberation Sans', Arial, sans-serif" stroke="#000" stroke-width="0.2">25 Mar 2021</text>
<text x="1338" y="940" font-size="9.3" fill="#000" text-anchor="start" font-weight="normal" font-family="'Liberation Sans', Arial, sans-serif" stroke="#000" stroke-width="0.2">5 Apr 2021</text>
<text x="1402" y="940" font-size="9.3" fill="#000" text-anchor="start" font-weight="normal" font-family="'Liberation Sans', Arial, sans-serif" stroke="#000" stroke-width="0.2">14 Apr 2021</text>
<polygon points="1423,27 1432,27 1427.5,32" fill="#b4b4b4"/>
<polygon points="-1,37.5 5,37.5 2,32.5" fill="#000"/>
<text x="11" y="38" font-size="9.3" fill="#000" text-anchor="start" font-weight="normal" font-family="'Liberation Sans', Arial, sans-serif" textLength="68" lengthAdjust="spacingAndGlyphs" stroke="#000" stroke-width="0.2">AUDUSD-,Daily</text>
<text x="85" y="38" font-size="9.3" fill="#000" text-anchor="start" font-weight="normal" font-family="'Liberation Sans', Arial, sans-serif" textLength="140.5" lengthAdjust="spacingAndGlyphs" stroke="#000" stroke-width="0.2">0.77226 0.77601 0.77049 0.77491</text>
<g shape-rendering="crispEdges">
<rect x="0" y="46" width="50" height="25" fill="#00007a" />
<rect x="0" y="47" width="49" height="23" fill="url(#gSellTop)" />
<rect x="165" y="46" width="52" height="25" fill="#00007a" />
<rect x="166" y="47" width="50" height="23" fill="url(#gSellTop)" />
<rect x="0" y="70" width="107" height="40" fill="#00007a" />
<rect x="0" y="71" width="106" height="38" fill="url(#gSellBot)" />
<rect x="109" y="70" width="108" height="40" fill="#00007a" />
<rect x="110" y="71" width="106" height="38" fill="url(#gSellBot)" />
<rect x="107" y="70" width="2" height="40" fill="#ffffff" />
<rect x="2" y="69" width="44" height="1" fill="#1a1a8c" />
<rect x="2" y="70" width="44" height="1" fill="#6f6fff" />
<rect x="169" y="69" width="44" height="1" fill="#1a1a8c" />
<rect x="169" y="70" width="44" height="1" fill="#6f6fff" />
<rect x="50" y="46" width="115" height="24" fill="#ffffff" />
<rect x="52" y="46" width="111" height="23" fill="#a8a8a8" />
<rect x="53" y="47" width="109" height="21" fill="#ffffff" />
<rect x="53" y="47" width="20" height="21" fill="#a0a0a0" />
<rect x="54" y="48" width="18" height="19" fill="url(#gBtn)" />
<rect x="141" y="47" width="21" height="21" fill="#a0a0a0" />
<rect x="142" y="48" width="19" height="19" fill="url(#gBtn)" />
</g>
<polygon points="60,56 66,56 63,59" fill="#5a6ec8"/>
<polygon points="148,59 154,59 151,56" fill="#5a6ec8"/>
<text x="137.5" y="60.8" font-size="12" fill="#000" text-anchor="end" font-weight="normal" font-family="'Liberation Sans', Arial, sans-serif" textLength="25" lengthAdjust="spacingAndGlyphs" >1.00</text>
<text x="11" y="62" font-size="12" fill="#fff" text-anchor="start" font-weight="normal" font-family="'Liberation Sans', Arial, sans-serif" textLength="25" lengthAdjust="spacingAndGlyphs" >SELL</text>
<text x="179" y="62" font-size="12" fill="#fff" text-anchor="start" font-weight="normal" font-family="'Liberation Sans', Arial, sans-serif" textLength="23.5" lengthAdjust="spacingAndGlyphs" >BUY</text>
<text x="18" y="101" font-size="11" fill="#fff" text-anchor="start" font-weight="bold" font-family="'Liberation Sans', Arial, sans-serif" textLength="23" lengthAdjust="spacingAndGlyphs" >0.77</text>
<text x="44.5" y="101" font-size="35.5" fill="#fff" text-anchor="start" font-weight="normal" font-family="'Liberation Sans', Arial, sans-serif" textLength="35" lengthAdjust="spacingAndGlyphs" >49</text>
<text x="86" y="84.5" font-size="12" fill="#fff" text-anchor="start" font-weight="bold" font-family="'Liberation Sans', Arial, sans-serif" textLength="6" lengthAdjust="spacingAndGlyphs" >1</text>
<text x="128" y="101" font-size="11" fill="#fff" text-anchor="start" font-weight="bold" font-family="'Liberation Sans', Arial, sans-serif" textLength="23" lengthAdjust="spacingAndGlyphs" >0.77</text>
<text x="157.5" y="101" font-size="35.5" fill="#fff" text-anchor="start" font-weight="normal" font-family="'Liberation Sans', Arial, sans-serif" textLength="33.5" lengthAdjust="spacingAndGlyphs" >53</text>
<text x="196.5" y="84.5" font-size="12" fill="#fff" text-anchor="start" font-weight="bold" font-family="'Liberation Sans', Arial, sans-serif" textLength="6" lengthAdjust="spacingAndGlyphs" >1</text>
</svg>
<svg width="1729" height="24" viewBox="0 0 1729 24" style="position:absolute;left:0;top:0">
<rect x="0" y="0" width="1729" height="21" fill="#f0f0f0" />
<rect x="0" y="21" width="1729" height="1" fill="#f6f6f6" />
<rect x="0" y="22" width="1729" height="1" fill="#a4a4a4" />
<rect x="0" y="23" width="1729" height="1" fill="#6b6b6b" />
<rect x="-3.5" y="3.5" width="9" height="13" fill="#fff" stroke="#2f6fc0" stroke-width="1.2"/>
<rect x="0" y="6" width="5" height="1" fill="#9fb8e8" />
<rect x="0" y="8" width="5" height="1" fill="#9fb8e8" />
<rect x="0" y="10" width="5" height="1" fill="#9fb8e8" />
<rect x="0" y="12" width="5" height="1" fill="#9fb8e8" />
<path d="M1,20 l1.5,-2 l1.5,2 z" fill="#444"/>
<rect x="18.5" y="2.5" width="12" height="13" fill="#fafafa" stroke="#a09888"/>
<circle cx="26" cy="11" r="5" fill="#d8ecf8" stroke="#5a8ad0" stroke-width="1.2"/>
<line x1="29.5" y1="14.5" x2="35" y2="19.5" stroke="#c89a20" stroke-width="2.2"/>
<rect x="43" y="1" width="1" height="19" fill="#a0a0a0" />
<rect x="44" y="1" width="1" height="19" fill="#ffffff" />
<path d="M53.5,2.5 h8 l3,3 v10 h-11 z" fill="#fafafa" stroke="#606060"/>
<rect x="55" y="6" width="6" height="1" fill="#808080" />
<rect x="55" y="9" width="6" height="1" fill="#808080" />
<rect x="55" y="12" width="6" height="1" fill="#808080" />
<path d="M57,12 h4 v-4 h4 v4 h4 v4 h-4 v4 h-4 v-4 h-4 z" fill="#2ad82a" stroke="#10a010" stroke-width="0.8"/>
<text x="72" y="13.5" font-size="12" fill="#000" text-anchor="start" font-weight="500" font-family="'Liberation Sans', 'Noto Sans CJK SC', sans-serif" textLength="36" lengthAdjust="spacingAndGlyphs" >新订单</text>
<defs><linearGradient id="gBook" x1="0" y1="0" x2="1" y2="1"><stop offset="0" stop-color="#ffe680"/><stop offset="0.5" stop-color="#e8b820"/><stop offset="1" stop-color="#c08a10"/></linearGradient></defs>
<path d="M120.5,11.5 L126,3.5 L135,10.5 L128,17.5 Z" fill="url(#gBook)" stroke="#9a6010" stroke-width="1" stroke-linejoin="round"/>
<path d="M128,17.5 L135,10.5 L135.5,12 L128.5,18.5 Z" fill="#f0e0b0" stroke="#9a6010" stroke-width="0.6"/>
<path d="M150.5,3.5 h8 l2,1.5 v7 h-10 z" fill="#1a8ae8" stroke="#1060c0" stroke-width="0.8"/>
<path d="M150.5,3.5 l2,1.5 v7" stroke="#8ad0ff" stroke-width="0.8" fill="none"/>
<rect x="154" y="6" width="5" height="2" fill="#d8f0ff" />
<path d="M149,16.5 q-1,-3 2.5,-3.5 q1,-3 5,-2.5 q2.5,-1.5 4.5,1 q3,0 2.5,3 q1,2 -1,2.5 h-12 q-1.5,0 -1.5,-0.5 z" fill="#e4ecf8" stroke="#3a5a98" stroke-width="0.9"/>
<circle cx="184" cy="9.7" r="7.5" fill="none" stroke="#6a8ad8" stroke-width="0.9" opacity="0.8"/>
<circle cx="184" cy="9.7" r="5" fill="none" stroke="#5a80d0" stroke-width="0.9" opacity="0.8"/>
<path d="M184,9.7 m7.5,0 a7.5,7.5 0 0 1 -7.5,7.5" stroke="#58b058" stroke-width="1.4" fill="none"/>
<circle cx="184" cy="9.5" r="2" fill="#2a58c8"/>
<rect x="184" y="10" width="1.3" height="8" fill="#20b020" />
<path d="M203.5,9.5 L218.5,8.5 L212,17.8 L210,17.6 Z" fill="#f4d850" stroke="#c09018" stroke-width="0.8" stroke-linejoin="round"/>
<ellipse cx="211" cy="7" rx="7.5" ry="3" fill="#5aa8e0" stroke="#2a6aa8" stroke-width="0.8"/>
<ellipse cx="211" cy="5" rx="4" ry="3" fill="#7ac0f0"/>
<circle cx="215.5" cy="13.5" r="4" fill="#d81c08"/>
<rect x="214" y="12" width="3" height="3" fill="#fff" />
<text x="225" y="13.5" font-size="12" fill="#000" text-anchor="start" font-weight="500" font-family="'Liberation Sans', 'Noto Sans CJK SC', sans-serif" textLength="46" lengthAdjust="spacingAndGlyphs" >自动交易</text>
<rect x="278" y="0" width="1" height="21" fill="#c8c8c8" />
<rect x="279" y="0" width="1" height="21" fill="#a0a0a0" />
<rect x="280" y="0" width="1" height="21" fill="#f8f8f8" />
<rect x="283" y="1" width="3" height="1" fill="#a8a8a8" />
<rect x="283" y="3" width="3" height="1" fill="#a8a8a8" />
<rect x="283" y="5" width="3" height="1" fill="#a8a8a8" />
<rect x="283" y="7" width="3" height="1" fill="#a8a8a8" />
<rect x="283" y="9" width="3" height="1" fill="#a8a8a8" />
<rect x="283" y="11" width="3" height="1" fill="#a8a8a8" />
<rect x="283" y="13" width="3" height="1" fill="#a8a8a8" />
<rect x="283" y="15" width="3" height="1" fill="#a8a8a8" />
<rect x="283" y="17" width="3" height="1" fill="#a8a8a8" />
<rect x="283" y="19" width="3" height="1" fill="#a8a8a8" />
<path d="M297.5,3 v15 M295,15.5 h13" stroke="#555" stroke-width="1" fill="none"/>
<path d="M297.5,2 l-2,3 h4 z M309,15.5 l-3,-2 v4 z" fill="#555"/>
<path d="M304,13 v-7 h3 M301,13 h3" stroke="#1a9a3a" stroke-width="1.3" fill="none"/>
<rect x="317" y="0" width="25" height="20" fill="#f4f4f4" />
<path d="M325.5,3 v15 M323,15.5 h13" stroke="#555" stroke-width="1" fill="none"/>
<path d="M325.5,2 l-2,3 h4 z M337,15.5 l-3,-2 v4 z" fill="#555"/>
<rect x="330.5" y="5.5" width="4" height="7" fill="#30c050" stroke="#1a7a30"/>
<rect x="332" y="2" width="1" height="3" fill="#1a7a30" />
<rect x="332" y="13" width="1" height="2" fill="#1a7a30" />
<path d="M353.5,3 v15 M351,15.5 h13" stroke="#555" stroke-width="1" fill="none"/>
<path d="M353.5,2 l-2,3 h4 z M365,15.5 l-3,-2 v4 z" fill="#555"/>
<path d="M353,12 q4,-6 7,-5 q3,1 5,4" stroke="#1a9a3a" stroke-width="1.2" fill="none"/>
<rect x="374" y="1" width="1" height="19" fill="#a0a0a0" />
<rect x="375" y="1" width="1" height="19" fill="#ffffff" />
<circle cx="389.5" cy="8" r="5.5" fill="#cfe4f8" stroke="#2f6fc0" stroke-width="1.4"/>
<line x1="393" y1="12" x2="398" y2="17.5" stroke="#c8a020" stroke-width="2.4"/>
<rect x="387" y="7" width="6" height="2" fill="#2f6fc0" />
<rect x="389" y="5" width="2" height="6" fill="#2f6fc0" />
<circle cx="417.5" cy="8" r="5.5" fill="#cfe4f8" stroke="#2f6fc0" stroke-width="1.4"/>
<line x1="421" y1="12" x2="426" y2="17.5" stroke="#c8a020" stroke-width="2.4"/>
<rect x="415" y="7" width="6" height="2" fill="#2f6fc0" />
<rect x="439" y="2" width="7" height="7" fill="#3aa030" />
<rect x="440" y="5" width="5" height="1" fill="#fff" />
<rect x="440" y="7" width="5" height="1" fill="#fff" />
<rect x="447" y="2" width="7" height="7" fill="#2a5ad0" />
<rect x="448" y="5" width="5" height="1" fill="#fff" />
<rect x="448" y="7" width="5" height="1" fill="#fff" />
<rect x="439" y="10" width="7" height="7" fill="#2a5ad0" />
<rect x="440" y="13" width="5" height="1" fill="#fff" />
<rect x="440" y="15" width="5" height="1" fill="#fff" />
<rect x="447" y="10" width="7" height="7" fill="#3aa030" />
<rect x="448" y="13" width="5" height="1" fill="#fff" />
<rect x="448" y="15" width="5" height="1" fill="#fff" />
<rect x="465" y="1" width="1" height="19" fill="#a0a0a0" />
<rect x="466" y="1" width="1" height="19" fill="#ffffff" />
<rect x="470" y="0" width="24" height="20" fill="#f4f4f4" />
<path d="M477.5,3 v15 M475,15.5 h13" stroke="#555" stroke-width="1" fill="none"/>
<path d="M477.5,2 l-2,3 h4 z M489,15.5 l-3,-2 v4 z" fill="#555"/>
<path d="M483,6 l5,3 l-5,3 z" fill="#2aa030"/>
<rect x="496" y="1" width="1" height="19" fill="#a0a0a0" />
<rect x="497" y="1" width="1" height="19" fill="#ffffff" />
<rect x="498" y="0" width="24" height="20" fill="#f4f4f4" />
<path d="M505.5,3 v15 M503,15.5 h13" stroke="#555" stroke-width="1" fill="none"/>
<path d="M505.5,2 l-2,3 h4 z M517,15.5 l-3,-2 v4 z" fill="#555"/>
<rect x="511" y="4" width="1" height="10" fill="#2a5ad0" />
<path d="M512,9 l4,-3 v2 h3 v2 h-3 v2 z" fill="#d04010"/>
<rect x="526" y="1" width="1" height="19" fill="#a0a0a0" />
<rect x="527" y="1" width="1" height="19" fill="#ffffff" />
<path d="M536.5,2.5 h8 l3,3 v10 h-11 z" fill="#fafafa" stroke="#606060"/>
<path d="M540,12 h4 v-4 h4 v4 h4 v4 h-4 v4 h-4 v-4 h-4 z" fill="#2ad82a" stroke="#10a010" stroke-width="0.8"/>
<path d="M557,9 h6 l-3,3 z" fill="#000"/>
<circle cx="582" cy="10" r="7.5" fill="#1a70d8" stroke="#1a50a8"/>
<circle cx="582" cy="10" r="5.2" fill="#f4f8ff" stroke="#8ab8f0" stroke-width="0.6"/>
<path d="M581.5,6 v4.5 h3" stroke="#222" stroke-width="1.1" fill="none"/>
<path d="M596,9 h6 l-3,3 z" fill="#000"/>
<rect x="613.5" y="3.5" width="15" height="13" fill="#fff" stroke="#3a6ac0"/>
<rect x="614" y="4" width="14" height="2" fill="#5a8ae0" />
<rect x="614" y="11" width="14" height="1" fill="#3a6ac0" />
<path d="M615.5,9 l3,-1 l3,0.5 l3,-1.5 l3,0.5" stroke="#b02010" fill="none" stroke-width="1.1"/>
<path d="M615.5,14.5 l3,-1 l2,1 l3,-2.5 l3,2.5" stroke="#20a030" fill="none" stroke-width="1.1"/>
<path d="M636,9 h6 l-3,3 z" fill="#000"/>
<rect x="648" y="0" width="1" height="21" fill="#a0a0a0" />
<rect x="651" y="1" width="3" height="1" fill="#a8a8a8" />
<rect x="651" y="3" width="3" height="1" fill="#a8a8a8" />
<rect x="651" y="5" width="3" height="1" fill="#a8a8a8" />
<rect x="651" y="7" width="3" height="1" fill="#a8a8a8" />
<rect x="651" y="9" width="3" height="1" fill="#a8a8a8" />
<rect x="651" y="11" width="3" height="1" fill="#a8a8a8" />
<rect x="651" y="13" width="3" height="1" fill="#a8a8a8" />
<rect x="651" y="15" width="3" height="1" fill="#a8a8a8" />
<rect x="651" y="17" width="3" height="1" fill="#a8a8a8" />
<rect x="651" y="19" width="3" height="1" fill="#a8a8a8" />
<rect x="657" y="1" width="1" height="19" fill="#a0a0a0" />
<rect x="658" y="1" width="1" height="19" fill="#ffffff" />
<rect x="659" y="0" width="24" height="20" fill="#f4f4f4" />
<path d="M665,4 v12 l3,-3 l2,4 l2,-1 l-2,-4 h4 z" fill="#444"/>
<rect x="690" y="10" width="13" height="1" fill="#555" />
<rect x="696" y="3" width="1" height="15" fill="#555" />
<rect x="714" y="1" width="1" height="19" fill="#a0a0a0" />
<rect x="715" y="1" width="1" height="19" fill="#ffffff" />
<rect x="731" y="4" width="1" height="13" fill="#555" />
<rect x="754" y="10" width="12" height="1" fill="#555" />
<line x1="782" y1="17" x2="794" y2="5" stroke="#555" stroke-width="1"/>
<path d="M808,14 l10,-10 M811,17 l10,-10 M810,9 l6,2 M812,6 l6,2" stroke="#555" stroke-width="1" fill="none"/>
<text x="818" y="19" font-size="8" fill="#444" text-anchor="start" font-weight="bold" font-family="'Liberation Sans', Arial, sans-serif" >E</text>
<line x1="837" y1="3.5" x2="850" y2="3.5" stroke="#666" stroke-dasharray="1,1"/>
<line x1="837" y1="7.5" x2="850" y2="7.5" stroke="#666" stroke-dasharray="1,1"/>
<line x1="837" y1="11.5" x2="850" y2="11.5" stroke="#666" stroke-dasharray="1,1"/>
<line x1="837" y1="15.5" x2="850" y2="15.5" stroke="#666" stroke-dasharray="1,1"/>
<text x="846" y="20" font-size="8" fill="#444" text-anchor="start" font-weight="bold" font-family="'Liberation Sans', Arial, sans-serif" >F</text>
<text x="868" y="15" font-size="13" fill="#555" text-anchor="start" font-weight="bold" font-family="'Liberation Sans', Arial, sans-serif" textLength="9" lengthAdjust="spacingAndGlyphs" >A</text>
<rect x="894.5" y="3.5" width="11" height="13" fill="none" stroke="#666" stroke-dasharray="1,1"/>
<text x="896" y="15" font-size="12" fill="#555" text-anchor="start" font-weight="bold" font-family="'Liberation Sans', Arial, sans-serif" textLength="8" lengthAdjust="spacingAndGlyphs" >T</text>
<path d="M921,6 l3,-3 l3,3 l-3,3 z M928,14 l3,-3 l3,3 l-3,3 z" fill="#444"/>
<path d="M924,9 l3,3 l5,-5" stroke="#444" stroke-width="1.2" fill="none"/>
<path d="M942,9 h6 l-3,3 z" fill="#000"/>
<rect x="953" y="0" width="1" height="21" fill="#a0a0a0" />
<rect x="958" y="1" width="3" height="1" fill="#a8a8a8" />
<rect x="958" y="3" width="3" height="1" fill="#a8a8a8" />
<rect x="958" y="5" width="3" height="1" fill="#a8a8a8" />
<rect x="958" y="7" width="3" height="1" fill="#a8a8a8" />
<rect x="958" y="9" width="3" height="1" fill="#a8a8a8" />
<rect x="958" y="11" width="3" height="1" fill="#a8a8a8" />
<rect x="958" y="13" width="3" height="1" fill="#a8a8a8" />
<rect x="958" y="15" width="3" height="1" fill="#a8a8a8" />
<rect x="958" y="17" width="3" height="1" fill="#a8a8a8" />
<rect x="958" y="19" width="3" height="1" fill="#a8a8a8" />
<rect x="1131" y="1" width="1" height="19" fill="#a0a0a0" />
<rect x="1132" y="1" width="1" height="19" fill="#ffffff" />
<rect x="1133" y="0" width="24" height="20" fill="#f4f4f4" />
<text x="969" y="14" font-size="10.5" fill="#404040" text-anchor="start" font-weight="normal" font-family="'Liberation Sans', Arial, sans-serif" textLength="12" lengthAdjust="spacingAndGlyphs" >M1</text>
<text x="997" y="14" font-size="10.5" fill="#404040" text-anchor="start" font-weight="normal" font-family="'Liberation Sans', Arial, sans-serif" textLength="12" lengthAdjust="spacingAndGlyphs" >M5</text>
<text x="1023" y="14" font-size="10.5" fill="#404040" text-anchor="start" font-weight="normal" font-family="'Liberation Sans', Arial, sans-serif" textLength="17" lengthAdjust="spacingAndGlyphs" >M15</text>
<text x="1050" y="14" font-size="10.5" fill="#404040" text-anchor="start" font-weight="normal" font-family="'Liberation Sans', Arial, sans-serif" textLength="18" lengthAdjust="spacingAndGlyphs" >M30</text>
<text x="1081" y="14" font-size="10.5" fill="#404040" text-anchor="start" font-weight="normal" font-family="'Liberation Sans', Arial, sans-serif" textLength="12" lengthAdjust="spacingAndGlyphs" >H1</text>
<text x="1109" y="14" font-size="10.5" fill="#404040" text-anchor="start" font-weight="normal" font-family="'Liberation Sans', Arial, sans-serif" textLength="12" lengthAdjust="spacingAndGlyphs" >H4</text>
<text x="1138" y="14" font-size="10.5" fill="#404040" text-anchor="start" font-weight="normal" font-family="'Liberation Sans', Arial, sans-serif" textLength="12" lengthAdjust="spacingAndGlyphs" >D1</text>
<text x="1165" y="14" font-size="10.5" fill="#404040" text-anchor="start" font-weight="normal" font-family="'Liberation Sans', Arial, sans-serif" textLength="15" lengthAdjust="spacingAndGlyphs" >W1</text>
<text x="1192" y="14" font-size="10.5" fill="#404040" text-anchor="start" font-weight="normal" font-family="'Liberation Sans', Arial, sans-serif" textLength="15" lengthAdjust="spacingAndGlyphs" >MN</text>
<rect x="1214" y="0" width="1" height="21" fill="#a0a0a0" />
<circle cx="1684" cy="7" r="4.5" fill="none" stroke="#2a5ad0" stroke-width="1.6"/>
<line x1="1680.5" y1="10.5" x2="1677" y2="14.5" stroke="#2a5ad0" stroke-width="2.2"/>
<ellipse cx="1706" cy="12" rx="6" ry="5" fill="#f4f4f4" stroke="#b0b0b0"/>
<path d="M1703,16 l-1,3 l4,-3" fill="#f4f4f4" stroke="#b0b0b0"/>
<circle cx="1715" cy="7.5" r="7.5" fill="#e03a20"/>
<text x="1715" y="12" font-size="11" fill="#fff" text-anchor="middle" font-weight="normal" font-family="'Liberation Sans', Arial, sans-serif" >1</text>
</svg>
</body></html>
